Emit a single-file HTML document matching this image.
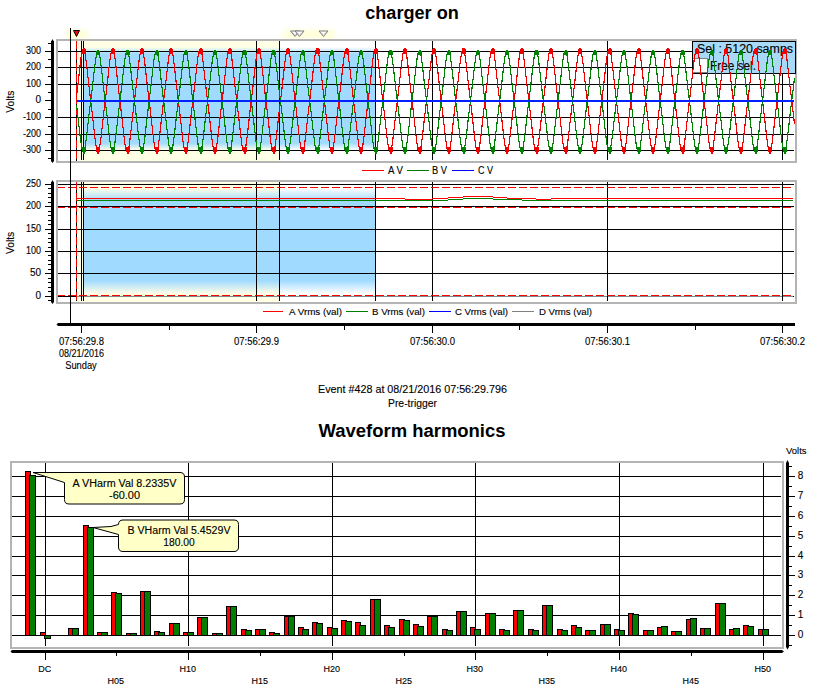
<!DOCTYPE html>
<html><head><meta charset="utf-8"><style>
html,body{margin:0;padding:0;background:#fff;}
svg{display:block;font-family:"Liberation Sans",sans-serif;}
text{stroke:#000;stroke-width:0.12px;} text[font-weight=bold]{stroke:none;}
</style></head><body>
<svg width="816" height="685" viewBox="0 0 816 685">
<rect x="0" y="0" width="816" height="685" fill="#fff"/>
<text x="412" y="18.8" font-size="18" text-anchor="middle" font-weight="bold" textLength="93.5" lengthAdjust="spacingAndGlyphs" >charger on</text>
<defs><linearGradient id="g1" x1="0" y1="0" x2="0" y2="1"><stop offset="0" stop-color="#A0DAFF" stop-opacity="0"/><stop offset="0.05" stop-color="#A0DAFF" stop-opacity="0"/><stop offset="0.11" stop-color="#A0DAFF" stop-opacity="1"/><stop offset="0.85" stop-color="#A0DAFF" stop-opacity="1"/><stop offset="0.91" stop-color="#A0DAFF" stop-opacity="0"/><stop offset="1" stop-color="#A0DAFF" stop-opacity="0"/></linearGradient><linearGradient id="g2" x1="0" y1="0" x2="0" y2="1"><stop offset="0" stop-color="#A0DAFF" stop-opacity="0"/><stop offset="0.05" stop-color="#A0DAFF" stop-opacity="0"/><stop offset="0.16" stop-color="#A0DAFF" stop-opacity="1"/><stop offset="0.82" stop-color="#A0DAFF" stop-opacity="1"/><stop offset="0.93" stop-color="#A0DAFF" stop-opacity="0"/><stop offset="1" stop-color="#A0DAFF" stop-opacity="0"/></linearGradient><filter id="blur" x="-50%" y="-50%" width="200%" height="200%"><feGaussianBlur stdDeviation="2.5"/></filter></defs>
<rect x="66" y="30" width="22" height="9" fill="#FFFFD8" filter="url(#blur)"/>
<rect x="283" y="30" width="52" height="9" fill="#FFFFD8" filter="url(#blur)"/>
<rect x="56" y="39" width="741" height="124" fill="#B4B4B4" />
<rect x="58" y="41" width="737" height="120" fill="#FFFFFF" />
<rect x="76" y="41" width="204" height="120" fill="#FFFFE6" />
<rect x="83" y="41" width="292" height="120" fill="url(#g1)" />
<rect x="58" y="51" width="736" height="1" fill="#000" />
<rect x="58" y="67" width="736" height="1" fill="#000" />
<rect x="58" y="84" width="736" height="1" fill="#000" />
<rect x="58" y="117" width="736" height="1" fill="#000" />
<rect x="58" y="134" width="736" height="1" fill="#000" />
<rect x="58" y="150" width="736" height="1" fill="#000" />
<rect x="81" y="41" width="1" height="119" fill="#000" />
<rect x="83" y="41" width="1" height="119" fill="#000" />
<rect x="256" y="41" width="1" height="119" fill="#000" />
<rect x="279" y="41" width="1" height="119" fill="#000" />
<rect x="375" y="41" width="1" height="119" fill="#000" />
<rect x="432" y="41" width="1" height="119" fill="#000" />
<rect x="607" y="41" width="1" height="119" fill="#000" />
<rect x="782" y="41" width="1" height="119" fill="#000" />
<rect x="692" y="41" width="104" height="33" fill="#000" />
<rect x="693" y="42" width="102" height="31" fill="#A8DAF8" />
<rect x="693" y="58" width="15" height="15" fill="#808080" />
<rect x="693" y="59" width="14" height="13" fill="#FFFFFF" />
<text x="697" y="52.5" font-size="12" text-anchor="start" font-weight="normal" textLength="96" lengthAdjust="spacingAndGlyphs" >Sel : 5120 samps</text>
<text x="710" y="69.5" font-size="12" text-anchor="start" font-weight="normal" textLength="46" lengthAdjust="spacingAndGlyphs" >Free sel.</text>
<rect x="76" y="41" width="1" height="120" fill="#000" />
<rect x="76" y="41" width="1" height="8" fill="#FF0000" />
<rect x="76" y="52" width="1" height="8" fill="#FF0000" />
<rect x="76" y="63" width="1" height="8" fill="#FF0000" />
<rect x="76" y="74" width="1" height="8" fill="#FF0000" />
<rect x="76" y="85" width="1" height="8" fill="#FF0000" />
<rect x="76" y="96" width="1" height="8" fill="#FF0000" />
<rect x="76" y="107" width="1" height="8" fill="#FF0000" />
<rect x="76" y="118" width="1" height="8" fill="#FF0000" />
<rect x="76" y="129" width="1" height="8" fill="#FF0000" />
<rect x="76" y="140" width="1" height="8" fill="#FF0000" />
<rect x="76" y="151" width="1" height="8" fill="#FF0000" />
<polyline points="76.50,96.69 77.00,92.54 77.50,88.30 78.00,83.95 78.50,79.50 79.00,74.98 79.50,70.46 80.00,66.04 80.50,61.85 81.00,58.02 81.50,54.70 82.00,52.02 82.50,50.10 83.00,49.02 83.50,48.84 84.00,49.56 84.50,51.16 85.00,53.55 85.50,56.63 86.00,60.27 86.50,64.33 87.00,68.68 87.50,73.17 88.00,77.70 88.50,82.18 89.00,86.57 89.50,90.85 90.00,95.03 90.50,99.15 91.00,103.25 91.50,107.39 92.00,111.60 92.50,115.93 93.00,120.36 93.50,124.87 94.00,129.39 94.50,133.84 95.00,138.09 95.50,142.01 96.00,145.45 96.50,148.28 97.00,150.37 97.50,151.62 98.00,152.00 98.50,151.46 99.00,150.05 99.50,147.82 100.00,144.87 100.50,141.34 101.00,137.35 101.50,133.05 102.00,128.58 102.50,124.05 103.00,119.55 103.50,115.14 104.00,110.84 104.50,106.64 105.00,102.51 105.50,98.41 106.00,94.29 106.50,90.09 107.00,85.79 107.50,81.38 108.00,76.88 108.50,72.35 109.00,67.88 109.50,63.58 110.00,59.58 110.50,56.03 111.00,53.06 111.50,50.81 112.00,49.37 112.50,48.81 113.00,49.15 113.50,50.38 114.00,52.45 114.50,55.26 115.00,58.68 115.50,62.58 116.00,66.83 116.50,71.27 117.00,75.80 117.50,80.31 118.00,84.74 118.50,89.07 119.00,93.29 119.50,97.43 120.00,101.53 120.50,105.64 121.00,109.82 121.50,114.10 122.00,118.49 122.50,122.97 123.00,127.50 123.50,131.99 124.00,136.34 124.50,140.41 125.00,144.07 125.50,147.17 126.00,149.58 126.50,151.20 127.00,151.95 127.50,151.80 128.00,150.75 128.50,148.85 129.00,146.19 129.50,142.88 130.00,139.07 130.50,134.89 131.00,130.47 131.50,125.96 132.00,121.44 132.50,116.98 133.00,112.63 133.50,108.39 134.00,104.24 134.50,100.13 135.00,96.03 135.50,91.86 136.00,87.61 136.50,83.24 137.00,78.78 137.50,74.25 138.00,69.75 138.50,65.36 139.00,61.21 139.50,57.45 140.00,54.23 140.50,51.66 141.00,49.87 141.50,48.93 142.00,48.90 142.50,49.76 143.00,51.49 143.50,53.99 144.00,57.17 144.50,60.89 145.00,65.01 145.50,69.39 146.00,73.89 146.50,78.42 147.00,82.89 147.50,87.26 148.00,91.53 148.50,95.70 149.00,99.81 149.50,103.91 150.00,108.06 150.50,112.29 151.00,116.63 151.50,121.08 152.00,125.59 152.50,130.11 153.00,134.54 153.50,138.75 154.00,142.60 154.50,145.95 155.00,148.66 155.50,150.62 156.00,151.74 156.50,151.97 157.00,151.29 157.50,149.74 158.00,147.39 158.50,144.34 159.00,140.72 159.50,136.68 160.00,132.35 160.50,127.86 161.00,123.33 161.50,118.84 162.00,114.44 162.50,110.16 163.00,105.97 163.50,101.85 164.00,97.75 164.50,93.62 165.00,89.41 165.50,85.09 166.00,80.66 166.50,76.16 167.00,71.63 167.50,67.18 168.00,62.91 168.50,58.98 169.00,55.51 169.50,52.65 170.00,50.52 170.50,49.22 171.00,48.80 171.50,49.29 172.00,50.66 172.50,52.85 173.00,55.77 173.50,59.28 174.00,63.24 174.50,67.53 175.00,71.99 175.50,76.52 176.00,81.02 176.50,85.44 177.00,89.75 177.50,93.95 178.00,98.08 178.50,102.18 179.00,106.31 179.50,110.50 180.00,114.79 180.50,119.20 181.00,123.69 181.50,128.22 182.00,132.70 182.50,137.01 183.00,141.03 183.50,144.61 184.00,147.61 184.50,149.90 185.00,151.38 185.50,151.99 186.00,151.69 186.50,150.50 187.00,148.47 187.50,145.70 188.00,142.30 188.50,138.42 189.00,134.19 189.50,129.75 190.00,125.23 190.50,120.72 191.00,116.28 191.50,111.95 192.00,107.72 192.50,103.58 193.00,99.48 193.50,95.36 194.00,91.19 194.50,86.92 195.00,82.54 195.50,78.06 196.00,73.53 196.50,69.03 197.00,64.67 197.50,60.58 198.00,56.90 198.50,53.77 199.00,51.32 199.50,49.66 200.00,48.87 200.50,48.97 201.00,49.98 201.50,51.84 202.00,54.46 202.50,57.74 203.00,61.53 203.50,65.70 204.00,70.10 204.50,74.62 205.00,79.14 205.50,83.60 206.00,87.95 206.50,92.20 207.00,96.36 207.50,100.46 208.00,104.57 208.50,108.73 209.00,112.98 209.50,117.33 210.00,121.80 210.50,126.32 211.00,130.83 211.50,135.23 212.00,139.39 212.50,143.17 213.00,146.43 213.50,149.03 214.00,150.86 214.50,151.84 215.00,151.92 215.50,151.10 216.00,149.42 216.50,146.95 217.00,143.80 217.50,140.10 218.00,136.00 218.50,131.63 219.00,127.13 219.50,122.61 220.00,118.13 220.50,113.75 221.00,109.48 221.50,105.31 222.00,101.20 222.50,97.10 223.00,92.95 223.50,88.73 224.00,84.39 224.50,79.95 225.00,75.43 225.50,70.91 226.00,66.48 226.50,62.26 227.00,58.39 227.50,55.01 228.00,52.26 228.50,50.25 229.00,49.09 229.50,48.82 230.00,49.45 230.50,50.96 231.00,53.27 231.50,56.29 232.00,59.88 232.50,63.91 233.00,68.23 233.50,72.71 234.00,77.24 234.50,81.74 235.00,86.14 235.50,90.43 236.00,94.62 236.50,98.74 237.00,102.84 237.50,106.97 238.00,111.18 238.50,115.49 239.00,119.91 239.50,124.42 240.00,128.94 240.50,133.40 241.00,137.68 241.50,141.64 242.00,145.13 242.50,148.02 243.00,150.19 243.50,151.54 244.00,152.00 244.50,151.56 245.00,150.23 245.50,148.08 246.00,145.20 246.50,141.71 247.00,137.76 247.50,133.49 248.00,129.03 248.50,124.51 249.00,120.00 249.50,115.58 250.00,111.26 250.50,107.05 251.00,102.92 251.50,98.82 252.00,94.70 252.50,90.51 253.00,86.22 253.50,81.83 254.00,77.33 254.50,72.81 255.00,68.32 255.50,64.00 256.00,59.96 256.50,56.36 257.00,53.33 257.50,51.00 258.00,49.47 258.50,48.82 259.00,49.08 259.50,50.22 260.00,52.21 260.50,54.95 261.00,58.31 261.50,62.18 262.00,66.39 262.50,70.82 263.00,75.34 263.50,79.86 264.00,84.30 264.50,88.64 265.00,92.87 265.50,97.01 266.00,101.12 266.50,105.23 267.00,109.40 267.50,113.67 268.00,118.04 268.50,122.52 269.00,127.04 269.50,131.55 270.00,135.92 270.50,140.02 271.00,143.73 271.50,146.89 272.00,149.38 272.50,151.08 273.00,151.92 273.50,151.85 274.00,150.89 274.50,149.07 275.00,146.49 275.50,143.24 276.00,139.47 276.50,135.32 277.00,130.92 277.50,126.41 278.00,121.89 278.50,117.42 279.00,113.06 279.50,108.81 280.00,104.65 280.50,100.54 281.00,96.44 281.50,92.28 282.00,88.04 282.50,83.69 283.00,79.23 283.50,74.71 284.00,70.19 284.50,65.79 285.00,61.61 285.50,57.81 286.00,54.52 286.50,51.88 287.00,50.01 287.50,48.99 288.00,48.86 288.50,49.63 289.00,51.28 289.50,53.71 290.00,56.83 290.50,60.50 291.00,64.59 291.50,68.94 292.00,73.44 292.50,77.97 293.00,82.45 293.50,86.83 294.00,91.11 294.50,95.28 295.00,99.40 295.50,103.50 296.00,107.64 296.50,111.86 297.00,116.19 297.50,120.63 298.00,125.14 298.50,129.66 299.00,134.10 299.50,138.34 300.00,142.23 300.50,145.64 301.00,148.42 301.50,150.46 302.00,151.67 302.50,151.99 303.00,151.40 303.50,149.94 304.00,147.66 304.50,144.68 305.00,141.11 305.50,137.10 306.00,132.79 306.50,128.31 307.00,123.78 307.50,119.29 308.00,114.88 308.50,110.58 309.00,106.39 309.50,102.27 310.00,98.17 310.50,94.04 311.00,89.84 311.50,85.53 312.00,81.11 312.50,76.61 313.00,72.08 313.50,67.62 314.00,63.33 314.50,59.35 315.00,55.83 315.50,52.90 316.00,50.70 316.50,49.31 317.00,48.80 317.50,49.20 318.00,50.49 318.50,52.60 319.00,55.44 319.50,58.90 320.00,62.83 320.50,67.09 321.00,71.54 321.50,76.07 322.00,80.58 322.50,85.00 323.00,89.32 323.50,93.54 324.00,97.67 324.50,101.77 325.00,105.89 325.50,110.07 326.00,114.36 326.50,118.75 327.00,123.24 327.50,127.77 328.00,132.26 328.50,136.59 329.00,140.65 329.50,144.28 330.00,147.34 330.50,149.70 331.00,151.27 331.50,151.97 332.00,151.76 332.50,150.66 333.00,148.71 333.50,146.01 334.00,142.67 334.50,138.83 335.00,134.63 335.50,130.20 336.00,125.68 336.50,121.17 337.00,116.72 337.50,112.37 338.00,108.14 338.50,103.99 339.00,99.89 339.50,95.78 340.00,91.61 340.50,87.35 341.00,82.98 341.50,78.51 342.00,73.98 342.50,69.48 343.00,65.10 343.50,60.97 344.00,57.24 344.50,54.05 345.00,51.53 345.50,49.79 346.00,48.90 346.50,48.92 347.00,49.84 347.50,51.62 348.00,54.17 348.50,57.38 349.00,61.13 349.50,65.27 350.00,69.66 350.50,74.16 351.00,78.69 351.50,83.16 352.00,87.52 352.50,91.78 353.00,95.94 353.50,100.05 354.00,104.16 354.50,108.31 355.00,112.55 355.50,116.89 356.00,121.35 356.50,125.87 357.00,130.38 357.50,134.80 358.00,138.99 358.50,142.81 359.00,146.13 359.50,148.80 360.00,150.72 360.50,151.78 361.00,151.96 361.50,151.23 362.00,149.62 362.50,147.23 363.00,144.14 363.50,140.49 364.00,136.42 364.50,132.08 365.00,127.59 365.50,123.06 366.00,118.57 366.50,114.18 367.00,109.91 367.50,105.73 368.00,101.61 368.50,97.51 369.00,93.37 369.50,89.15 370.00,84.83 370.50,80.40 371.00,75.89 371.50,71.36 372.00,66.91 372.50,62.67 373.00,58.75 373.50,55.32 374.00,52.50 374.50,50.42 375.00,49.17 375.50,48.80 376.00,49.35 376.50,50.77 377.00,53.01 377.50,55.96 378.00,59.50 378.50,63.49 379.00,67.79 379.50,72.26 380.00,76.79 380.50,81.29 381.00,85.70 381.50,90.01 382.00,94.20 382.50,98.33 383.00,102.43 383.50,106.55 384.00,110.75 384.50,115.05 385.00,119.47 385.50,123.96 386.00,128.49 386.50,132.96 387.00,137.26 387.50,141.26 388.00,144.81 388.50,147.77 389.00,150.01 389.50,151.44 390.00,151.99 390.50,151.64 391.00,150.40 391.50,148.32 392.00,145.51 392.50,142.08 393.00,138.17 393.50,133.93 394.00,129.48 394.50,124.96 395.00,120.45 395.50,116.02 396.00,111.69 396.50,107.47 397.00,103.33 397.50,99.23 398.00,95.12 398.50,90.94 399.00,86.66 399.50,82.27 400.00,77.79 400.50,73.26 401.00,68.76 401.50,64.42 402.00,60.35 402.50,56.69 403.00,53.60 403.50,51.20 404.00,49.59 404.50,48.85 405.00,49.01 405.50,50.07 406.00,51.97 406.50,54.64 407.00,57.95 407.50,61.77 408.00,65.96 408.50,70.37 409.00,74.89 409.50,79.41 410.00,83.86 410.50,88.21 411.00,92.45 411.50,96.60 412.00,100.71 412.50,104.82 413.00,108.98 413.50,113.23 414.00,117.60 414.50,122.07 415.00,126.59 415.50,131.10 416.00,135.49 416.50,139.63 417.00,143.38 417.50,146.60 418.00,149.16 418.50,150.95 419.00,151.87 419.50,151.90 420.00,151.03 420.50,149.29 421.00,146.78 421.50,143.59 422.00,139.87 422.50,135.74 423.00,131.37 423.50,126.86 424.00,122.34 424.50,117.87 425.00,113.49 425.50,109.23 426.00,105.06 426.50,100.95 427.00,96.85 427.50,92.70 428.00,88.47 428.50,84.13 429.00,79.68 429.50,75.16 430.00,70.64 430.50,66.22 431.00,62.01 431.50,58.17 432.00,54.82 432.50,52.11 433.00,50.16 433.50,49.05 434.00,48.83 434.50,49.52 435.00,51.08 435.50,53.44 436.00,56.49 436.50,60.11 437.00,64.16 437.50,68.50 438.00,72.99 438.50,77.52 439.00,82.00 439.50,86.40 440.00,90.68 440.50,94.87 441.00,98.99 441.50,103.09 442.00,107.22 442.50,111.43 443.00,115.75 443.50,120.18 444.00,124.69 444.50,129.21 445.00,133.67 445.50,137.93 446.00,141.86 446.50,145.32 447.00,148.18 447.50,150.30 448.00,151.59 448.50,152.00 449.00,151.50 449.50,150.12 450.00,147.92 450.50,145.00 451.00,141.49 451.50,137.51 452.00,133.23 452.50,128.76 453.00,124.23 453.50,119.73 454.00,115.32 454.50,111.01 455.00,106.80 455.50,102.68 456.00,98.58 456.50,94.45 457.00,90.26 457.50,85.96 458.00,81.56 458.50,77.06 459.00,72.53 459.50,68.06 460.00,63.74 460.50,59.73 461.00,56.16 461.50,53.17 462.00,50.88 462.50,49.41 463.00,48.81 463.50,49.12 464.00,50.32 464.50,52.35 465.00,55.13 465.50,58.53 466.00,62.42 466.50,66.65 467.00,71.09 467.50,75.61 468.00,80.13 468.50,84.57 469.00,88.90 469.50,93.12 470.00,97.26 470.50,101.36 471.00,105.48 471.50,109.65 472.00,113.92 472.50,118.31 473.00,122.79 473.50,127.32 474.00,131.81 474.50,136.17 475.00,140.26 475.50,143.94 476.00,147.06 476.50,149.50 477.00,151.15 477.50,151.94 478.00,151.82 478.50,150.80 479.00,148.94 479.50,146.31 480.00,143.03 480.50,139.23 481.00,135.06 481.50,130.65 482.00,126.14 482.50,121.62 483.00,117.16 483.50,112.80 484.00,108.56 484.50,104.40 485.00,100.30 485.50,96.19 486.00,92.03 486.50,87.78 487.00,83.42 487.50,78.96 488.00,74.44 488.50,69.92 489.00,65.53 489.50,61.37 490.00,57.60 490.50,54.34 491.00,51.75 491.50,49.92 492.00,48.95 492.50,48.88 493.00,49.71 493.50,51.40 494.00,53.88 494.50,57.04 495.00,60.74 495.50,64.84 496.00,69.21 496.50,73.71 497.00,78.24 497.50,82.71 498.00,87.09 498.50,91.36 499.00,95.53 499.50,99.64 500.00,103.74 500.50,107.89 501.00,112.12 501.50,116.45 502.00,120.90 502.50,125.41 503.00,129.93 503.50,134.37 504.00,138.58 504.50,142.45 505.00,145.82 505.50,148.57 506.00,150.56 506.50,151.72 507.00,151.98 507.50,151.34 508.00,149.82 508.50,147.50 509.00,144.48 509.50,140.88 510.00,136.85 510.50,132.52 511.00,128.04 511.50,123.51 512.00,119.02 512.50,114.62 513.00,110.33 513.50,106.14 514.00,102.02 514.50,97.92 515.00,93.79 515.50,89.58 516.00,85.27 516.50,80.84 517.00,76.34 517.50,71.81 518.00,67.35 518.50,63.08 519.00,59.13 519.50,55.64 520.00,52.75 520.50,50.59 521.00,49.25 521.50,48.80 522.00,49.25 522.50,50.59 523.00,52.75 523.50,55.64 524.00,59.13 524.50,63.08 525.00,67.35 525.50,71.81 526.00,76.34 526.50,80.84 527.00,85.27 527.50,89.58 528.00,93.79 528.50,97.92 529.00,102.02 529.50,106.14 530.00,110.33 530.50,114.62 531.00,119.02 531.50,123.51 532.00,128.04 532.50,132.52 533.00,136.85 533.50,140.88 534.00,144.48 534.50,147.50 535.00,149.82 535.50,151.34 536.00,151.98 536.50,151.72 537.00,150.56 537.50,148.57 538.00,145.82 538.50,142.45 539.00,138.58 539.50,134.37 540.00,129.93 540.50,125.41 541.00,120.90 541.50,116.45 542.00,112.12 542.50,107.89 543.00,103.74 543.50,99.64 544.00,95.53 544.50,91.36 545.00,87.09 545.50,82.71 546.00,78.24 546.50,73.71 547.00,69.21 547.50,64.84 548.00,60.74 548.50,57.04 549.00,53.88 549.50,51.40 550.00,49.71 550.50,48.88 551.00,48.95 551.50,49.92 552.00,51.75 552.50,54.34 553.00,57.60 553.50,61.37 554.00,65.53 554.50,69.92 555.00,74.44 555.50,78.96 556.00,83.42 556.50,87.78 557.00,92.03 557.50,96.19 558.00,100.30 558.50,104.40 559.00,108.56 559.50,112.80 560.00,117.16 560.50,121.62 561.00,126.14 561.50,130.65 562.00,135.06 562.50,139.23 563.00,143.03 563.50,146.31 564.00,148.94 564.50,150.80 565.00,151.82 565.50,151.94 566.00,151.15 566.50,149.50 567.00,147.06 567.50,143.94 568.00,140.26 568.50,136.17 569.00,131.81 569.50,127.32 570.00,122.79 570.50,118.31 571.00,113.92 571.50,109.65 572.00,105.48 572.50,101.36 573.00,97.26 573.50,93.12 574.00,88.90 574.50,84.57 575.00,80.13 575.50,75.61 576.00,71.09 576.50,66.65 577.00,62.42 577.50,58.53 578.00,55.13 578.50,52.35 579.00,50.32 579.50,49.12 580.00,48.81 580.50,49.41 581.00,50.88 581.50,53.17 582.00,56.16 582.50,59.73 583.00,63.74 583.50,68.06 584.00,72.53 584.50,77.06 585.00,81.56 585.50,85.96 586.00,90.26 586.50,94.45 587.00,98.58 587.50,102.68 588.00,106.80 588.50,111.01 589.00,115.32 589.50,119.73 590.00,124.23 590.50,128.76 591.00,133.23 591.50,137.51 592.00,141.49 592.50,145.00 593.00,147.92 593.50,150.12 594.00,151.50 594.50,152.00 595.00,151.59 595.50,150.30 596.00,148.18 596.50,145.32 597.00,141.86 597.50,137.93 598.00,133.67 598.50,129.21 599.00,124.69 599.50,120.18 600.00,115.75 600.50,111.43 601.00,107.22 601.50,103.09 602.00,98.99 602.50,94.87 603.00,90.68 603.50,86.40 604.00,82.00 604.50,77.52 605.00,72.99 605.50,68.50 606.00,64.16 606.50,60.11 607.00,56.49 607.50,53.44 608.00,51.08 608.50,49.52 609.00,48.83 609.50,49.05 610.00,50.16 610.50,52.11 611.00,54.82 611.50,58.17 612.00,62.01 612.50,66.22 613.00,70.64 613.50,75.16 614.00,79.68 614.50,84.13 615.00,88.47 615.50,92.70 616.00,96.85 616.50,100.95 617.00,105.06 617.50,109.23 618.00,113.49 618.50,117.87 619.00,122.34 619.50,126.86 620.00,131.37 620.50,135.74 621.00,139.87 621.50,143.59 622.00,146.78 622.50,149.29 623.00,151.03 623.50,151.90 624.00,151.87 624.50,150.95 625.00,149.16 625.50,146.60 626.00,143.38 626.50,139.63 627.00,135.49 627.50,131.10 628.00,126.59 628.50,122.07 629.00,117.60 629.50,113.23 630.00,108.98 630.50,104.82 631.00,100.71 631.50,96.60 632.00,92.45 632.50,88.21 633.00,83.86 633.50,79.41 634.00,74.89 634.50,70.37 635.00,65.96 635.50,61.77 636.00,57.95 636.50,54.64 637.00,51.97 637.50,50.07 638.00,49.01 638.50,48.85 639.00,49.59 639.50,51.20 640.00,53.60 640.50,56.69 641.00,60.35 641.50,64.42 642.00,68.76 642.50,73.26 643.00,77.79 643.50,82.27 644.00,86.66 644.50,90.94 645.00,95.12 645.50,99.23 646.00,103.33 646.50,107.47 647.00,111.69 647.50,116.02 648.00,120.45 648.50,124.96 649.00,129.48 649.50,133.93 650.00,138.17 650.50,142.08 651.00,145.51 651.50,148.32 652.00,150.40 652.50,151.64 653.00,151.99 653.50,151.44 654.00,150.01 654.50,147.77 655.00,144.81 655.50,141.26 656.00,137.26 656.50,132.96 657.00,128.49 657.50,123.96 658.00,119.47 658.50,115.05 659.00,110.75 659.50,106.55 660.00,102.43 660.50,98.33 661.00,94.20 661.50,90.01 662.00,85.70 662.50,81.29 663.00,76.79 663.50,72.26 664.00,67.79 664.50,63.49 665.00,59.50 665.50,55.96 666.00,53.01 666.50,50.77 667.00,49.35 667.50,48.80 668.00,49.17 668.50,50.42 669.00,52.50 669.50,55.32 670.00,58.75 670.50,62.67 671.00,66.91 671.50,71.36 672.00,75.89 672.50,80.40 673.00,84.83 673.50,89.15 674.00,93.37 674.50,97.51 675.00,101.61 675.50,105.73 676.00,109.91 676.50,114.18 677.00,118.57 677.50,123.06 678.00,127.59 678.50,132.08 679.00,136.42 679.50,140.49 680.00,144.14 680.50,147.23 681.00,149.62 681.50,151.23 682.00,151.96 682.50,151.78 683.00,150.72 683.50,148.80 684.00,146.13 684.50,142.81 685.00,138.99 685.50,134.80 686.00,130.38 686.50,125.87 687.00,121.35 687.50,116.89 688.00,112.55 688.50,108.31 689.00,104.16 689.50,100.05 690.00,95.94 690.50,91.78 691.00,87.52 691.50,83.16 692.00,78.69 692.50,74.16 693.00,69.66 693.50,65.27 694.00,61.13 694.50,57.38 695.00,54.17 695.50,51.62 696.00,49.84 696.50,48.92 697.00,48.90 697.50,49.79 698.00,51.53 698.50,54.05 699.00,57.24 699.50,60.97 700.00,65.10 700.50,69.48 701.00,73.98 701.50,78.51 702.00,82.98 702.50,87.35 703.00,91.61 703.50,95.78 704.00,99.89 704.50,103.99 705.00,108.14 705.50,112.37 706.00,116.72 706.50,121.17 707.00,125.68 707.50,130.20 708.00,134.63 708.50,138.83 709.00,142.67 709.50,146.01 710.00,148.71 710.50,150.66 711.00,151.76 711.50,151.97 712.00,151.27 712.50,149.70 713.00,147.34 713.50,144.28 714.00,140.65 714.50,136.59 715.00,132.26 715.50,127.77 716.00,123.24 716.50,118.75 717.00,114.36 717.50,110.07 718.00,105.89 718.50,101.77 719.00,97.67 719.50,93.54 720.00,89.32 720.50,85.00 721.00,80.58 721.50,76.07 722.00,71.54 722.50,67.09 723.00,62.83 723.50,58.90 724.00,55.44 724.50,52.60 725.00,50.49 725.50,49.20 726.00,48.80 726.50,49.31 727.00,50.70 727.50,52.90 728.00,55.83 728.50,59.35 729.00,63.33 729.50,67.62 730.00,72.08 730.50,76.61 731.00,81.11 731.50,85.53 732.00,89.84 732.50,94.04 733.00,98.17 733.50,102.27 734.00,106.39 734.50,110.58 735.00,114.88 735.50,119.29 736.00,123.78 736.50,128.31 737.00,132.79 737.50,137.10 738.00,141.11 738.50,144.68 739.00,147.66 739.50,149.94 740.00,151.40 740.50,151.99 741.00,151.67 741.50,150.46 742.00,148.42 742.50,145.64 743.00,142.23 743.50,138.34 744.00,134.10 744.50,129.66 745.00,125.14 745.50,120.63 746.00,116.19 746.50,111.86 747.00,107.64 747.50,103.50 748.00,99.40 748.50,95.28 749.00,91.11 749.50,86.83 750.00,82.45 750.50,77.97 751.00,73.44 751.50,68.94 752.00,64.59 752.50,60.50 753.00,56.83 753.50,53.71 754.00,51.28 754.50,49.63 755.00,48.86 755.50,48.99 756.00,50.01 756.50,51.88 757.00,54.52 757.50,57.81 758.00,61.61 758.50,65.79 759.00,70.19 759.50,74.71 760.00,79.23 760.50,83.69 761.00,88.04 761.50,92.28 762.00,96.44 762.50,100.54 763.00,104.65 763.50,108.81 764.00,113.06 764.50,117.42 765.00,121.89 765.50,126.41 766.00,130.92 766.50,135.32 767.00,139.47 767.50,143.24 768.00,146.49 768.50,149.07 769.00,150.89 769.50,151.85 770.00,151.92 770.50,151.08 771.00,149.38 771.50,146.89 772.00,143.73 772.50,140.02 773.00,135.92 773.50,131.55 774.00,127.04 774.50,122.52 775.00,118.04 775.50,113.67 776.00,109.40 776.50,105.23 777.00,101.12 777.50,97.01 778.00,92.87 778.50,88.64 779.00,84.30 779.50,79.86 780.00,75.34 780.50,70.82 781.00,66.39 781.50,62.18 782.00,58.31 782.50,54.95 783.00,52.21 783.50,50.22 784.00,49.08 784.50,48.82 785.00,49.47 785.50,51.00 786.00,53.33 786.50,56.36 787.00,59.96 787.50,64.00 788.00,68.32 788.50,72.81 789.00,77.33 789.50,81.83 790.00,86.22 790.50,90.51 791.00,94.70 791.50,98.82 792.00,102.92 792.50,107.05 793.00,111.26 793.50,115.58 794.00,120.00 794.50,124.51" fill="none" stroke="#EE0000" stroke-width="1.15" shape-rendering="crispEdges"/>
<polyline points="76.50,104.94 77.00,109.01 77.50,113.17 78.00,117.43 78.50,121.80 79.00,126.23 79.50,130.66 80.00,134.99 80.50,139.10 81.00,142.86 81.50,146.11 82.00,148.74 82.50,150.63 83.00,151.68 83.50,151.86 84.00,151.15 84.50,149.59 85.00,147.25 85.50,144.23 86.00,140.65 86.50,136.67 87.00,132.41 87.50,128.01 88.00,123.56 88.50,119.17 89.00,114.86 89.50,110.66 90.00,106.56 90.50,102.53 91.00,98.50 91.50,94.45 92.00,90.31 92.50,86.07 93.00,81.73 93.50,77.31 94.00,72.87 94.50,68.51 95.00,64.34 95.50,60.50 96.00,57.12 96.50,54.35 97.00,52.30 97.50,51.07 98.00,50.70 98.50,51.23 99.00,52.61 99.50,54.80 100.00,57.69 100.50,61.16 101.00,65.07 101.50,69.28 102.00,73.66 102.50,78.10 103.00,82.52 103.50,86.84 104.00,91.06 104.50,95.18 105.00,99.23 105.50,103.25 106.00,107.29 106.50,111.41 107.00,115.63 107.50,119.95 108.00,124.36 108.50,128.80 109.00,133.19 109.50,137.41 110.00,141.33 110.50,144.81 111.00,147.72 111.50,149.93 112.00,151.34 112.50,151.89 113.00,151.56 113.50,150.35 114.00,148.32 114.50,145.57 115.00,142.21 115.50,138.38 116.00,134.22 116.50,129.86 117.00,125.43 117.50,121.00 118.00,116.66 118.50,112.41 119.00,108.27 119.50,104.22 120.00,100.19 120.50,96.16 121.00,92.06 121.50,87.87 122.00,83.56 122.50,79.17 123.00,74.73 123.50,70.32 124.00,66.06 124.50,62.06 125.00,58.47 125.50,55.43 126.00,53.07 126.50,51.48 127.00,50.75 127.50,50.90 128.00,51.93 128.50,53.79 129.00,56.40 129.50,59.64 130.00,63.38 130.50,67.48 131.00,71.81 131.50,76.24 132.00,80.67 132.50,85.04 133.00,89.31 133.50,93.46 134.00,97.54 134.50,101.56 135.00,105.59 135.50,109.67 136.00,113.84 136.50,118.12 137.00,122.50 137.50,126.94 138.00,131.36 138.50,135.67 139.00,139.73 139.50,143.41 140.00,146.58 140.50,149.10 141.00,150.85 141.50,151.77 142.00,151.81 142.50,150.96 143.00,149.27 143.50,146.81 144.00,143.69 144.50,140.04 145.00,136.00 145.50,131.71 146.00,127.29 146.50,122.86 147.00,118.47 147.50,114.18 148.00,110.00 148.50,105.91 149.00,101.88 149.50,97.86 150.00,93.79 150.50,89.64 151.00,85.38 151.50,81.02 152.00,76.59 152.50,72.16 153.00,67.82 153.50,63.70 154.00,59.92 154.50,56.64 155.00,53.97 155.50,52.05 156.00,50.95 156.50,50.73 157.00,51.39 157.50,52.91 158.00,55.22 158.50,58.21 159.00,61.76 159.50,65.73 160.00,69.97 160.50,74.37 161.00,78.81 161.50,83.22 162.00,87.53 162.50,91.73 163.00,95.83 163.50,99.87 164.00,103.89 164.50,107.95 165.00,112.08 165.50,116.31 166.00,120.65 166.50,125.07 167.00,129.51 167.50,133.88 168.00,138.06 168.50,141.92 169.00,145.32 169.50,148.13 170.00,150.21 170.50,151.49 171.00,151.90 171.50,151.42 172.00,150.07 172.50,147.93 173.00,145.07 173.50,141.63 174.00,137.74 174.50,133.54 175.00,129.16 175.50,124.72 176.00,120.30 176.50,115.97 177.00,111.74 177.50,107.62 178.00,103.57 178.50,99.55 179.00,95.51 179.50,91.40 180.00,87.19 180.50,82.87 181.00,78.46 181.50,74.02 182.00,69.63 182.50,65.40 183.00,61.46 183.50,57.95 184.00,55.01 184.50,52.76 185.00,51.31 185.50,50.71 186.00,51.01 186.50,52.17 187.00,54.16 187.50,56.88 188.00,60.21 188.50,64.02 189.00,68.16 189.50,72.51 190.00,76.95 190.50,81.38 191.00,85.73 191.50,89.98 192.00,94.12 192.50,98.18 193.00,102.20 193.50,106.24 194.00,110.33 194.50,114.52 195.00,118.82 195.50,123.21 196.00,127.65 196.50,132.06 197.00,136.34 197.50,140.35 198.00,143.96 198.50,147.03 199.00,149.43 199.50,151.06 200.00,151.84 200.50,151.73 201.00,150.74 201.50,148.92 202.00,146.35 202.50,143.14 203.00,139.42 203.50,135.33 204.00,131.01 204.50,126.58 205.00,122.15 205.50,117.78 206.00,113.50 206.50,109.34 207.00,105.27 207.50,101.24 208.00,97.21 208.50,93.14 209.00,88.97 209.50,84.69 210.00,80.32 210.50,75.88 211.00,71.46 211.50,67.15 212.00,63.07 212.50,59.36 213.00,56.16 213.50,53.61 214.00,51.82 214.50,50.85 215.00,50.77 215.50,51.58 216.00,53.23 216.50,55.65 217.00,58.74 217.50,62.37 218.00,66.39 218.50,70.67 219.00,75.08 219.50,79.52 220.00,83.91 220.50,88.21 221.00,92.39 221.50,96.48 222.00,100.52 222.50,104.54 223.00,108.60 223.50,112.75 224.00,117.00 224.50,121.36 225.00,125.78 225.50,130.22 226.00,134.56 226.50,138.70 227.00,142.50 227.50,145.81 228.00,148.51 228.50,150.47 229.00,151.62 229.50,151.88 230.00,151.26 230.50,149.78 231.00,147.51 231.50,144.55 232.00,141.03 232.50,137.08 233.00,132.84 233.50,128.45 234.00,124.01 234.50,119.60 235.00,115.29 235.50,111.08 236.00,106.97 236.50,102.93 237.00,98.91 237.50,94.86 238.00,90.73 238.50,86.50 239.00,82.17 239.50,77.75 240.00,73.31 240.50,68.94 241.00,64.74 241.50,60.86 242.00,57.44 242.50,54.60 243.00,52.47 243.50,51.15 244.00,50.70 244.50,51.14 245.00,52.44 245.50,54.55 246.00,57.37 246.50,60.79 247.00,64.66 247.50,68.85 248.00,73.22 248.50,77.66 249.00,82.08 249.50,86.42 250.00,90.65 250.50,94.78 251.00,98.83 251.50,102.85 252.00,106.89 252.50,110.99 253.00,115.20 253.50,119.51 254.00,123.92 254.50,128.36 255.00,132.76 255.50,137.00 256.00,140.96 256.50,144.49 257.00,147.46 257.50,149.74 258.00,151.24 258.50,151.88 259.00,151.63 259.50,150.50 260.00,148.56 260.50,145.87 261.00,142.57 261.50,138.78 262.00,134.65 262.50,130.31 263.00,125.87 263.50,121.44 264.00,117.09 264.50,112.83 265.00,108.68 265.50,104.62 266.00,100.60 266.50,96.56 267.00,92.48 267.50,88.29 268.00,84.00 268.50,79.61 269.00,75.17 269.50,70.76 270.00,66.47 270.50,62.44 271.00,58.81 271.50,55.71 272.00,53.27 272.50,51.60 273.00,50.78 273.50,50.84 274.00,51.79 274.50,53.57 275.00,56.11 275.50,59.29 276.00,62.99 276.50,67.06 277.00,71.37 277.50,75.79 278.00,80.23 278.50,84.61 279.00,88.88 279.50,93.05 280.00,97.13 280.50,101.16 281.00,105.19 281.50,109.26 282.00,113.42 282.50,117.69 283.00,122.06 283.50,126.49 284.00,130.92 284.50,135.24 285.00,139.34 285.50,143.07 286.00,146.29 286.50,148.88 287.00,150.71 287.50,151.72 288.00,151.84 288.50,151.08 289.00,149.47 289.50,147.08 290.00,144.03 290.50,140.42 291.00,136.42 291.50,132.15 292.00,127.74 292.50,123.30 293.00,118.90 293.50,114.60 294.00,110.41 294.50,106.32 295.00,102.28 295.50,98.26 296.00,94.20 296.50,90.06 297.00,85.82 297.50,81.46 298.00,77.04 298.50,72.60 299.00,68.25 299.50,64.10 300.00,60.28 300.50,56.94 301.00,54.21 301.50,52.21 302.00,51.02 302.50,50.71 303.00,51.29 303.50,52.72 304.00,54.96 304.50,57.88 305.00,61.38 305.50,65.31 306.00,69.54 306.50,73.93 307.00,78.37 307.50,82.78 308.00,87.10 308.50,91.31 309.00,95.43 309.50,99.47 310.00,103.49 310.50,107.54 311.00,111.66 311.50,115.88 312.00,120.21 312.50,124.63 313.00,129.07 313.50,133.45 314.00,137.65 314.50,141.55 315.00,145.01 315.50,147.88 316.00,150.04 316.50,151.40 317.00,151.90 317.50,151.51 318.00,150.25 318.50,148.17 319.00,145.38 319.50,141.99 320.00,138.14 320.50,133.97 321.00,129.60 321.50,125.16 322.00,120.74 322.50,116.40 323.00,112.16 323.50,108.03 324.00,103.97 324.50,99.95 325.00,95.92 325.50,91.81 326.00,87.61 326.50,83.30 327.00,78.90 327.50,74.46 328.00,70.06 328.50,65.81 329.00,61.83 329.50,58.28 330.00,55.27 330.50,52.95 331.00,51.41 331.50,50.73 332.00,50.94 332.50,52.02 333.00,53.93 333.50,56.58 334.00,59.85 334.50,63.62 335.00,67.74 335.50,72.07 336.00,76.51 336.50,80.94 337.00,85.30 337.50,89.56 338.00,93.71 338.50,97.78 339.00,101.80 339.50,105.83 340.00,109.92 340.50,114.10 341.00,118.38 341.50,122.77 342.00,127.21 342.50,131.62 343.00,135.92 343.50,139.96 344.00,143.62 344.50,146.75 345.00,149.22 345.50,150.93 346.00,151.80 346.50,151.78 347.00,150.88 347.50,149.14 348.00,146.64 348.50,143.48 349.00,139.81 349.50,135.75 350.00,131.45 350.50,127.03 351.00,122.59 351.50,118.21 352.00,113.93 352.50,109.75 353.00,105.67 353.50,101.64 354.00,97.62 354.50,93.55 355.00,89.39 355.50,85.13 356.00,80.76 356.50,76.33 357.00,71.90 357.50,67.57 358.00,63.46 358.50,59.71 359.00,56.46 359.50,53.84 360.00,51.96 360.50,50.91 361.00,50.74 361.50,51.46 362.00,53.03 362.50,55.38 363.00,58.41 363.50,61.98 364.00,65.97 364.50,70.23 365.00,74.64 365.50,79.08 366.00,83.48 366.50,87.78 367.00,91.98 367.50,96.08 368.00,100.11 368.50,104.14 369.00,108.19 369.50,112.33 370.00,116.57 370.50,120.92 371.00,125.34 371.50,129.78 372.00,134.14 372.50,138.30 373.00,142.14 373.50,145.51 374.00,148.27 374.50,150.31 375.00,151.54 375.50,151.90 376.00,151.36 376.50,149.97 377.00,147.77 377.50,144.88 378.00,141.41 378.50,137.49 379.00,133.28 379.50,128.89 380.00,124.45 380.50,120.04 381.00,115.71 381.50,111.49 382.00,107.38 382.50,103.33 383.00,99.31 383.50,95.26 384.00,91.15 384.50,86.93 385.00,82.60 385.50,78.19 386.00,73.75 386.50,69.37 387.00,65.15 387.50,61.23 388.00,57.75 388.50,54.85 389.00,52.65 389.50,51.25 390.00,50.71 390.50,51.05 391.00,52.27 391.50,54.30 392.00,57.06 392.50,60.42 393.00,64.26 393.50,68.42 394.00,72.78 394.50,77.22 395.00,81.64 395.50,85.99 396.00,90.23 396.50,94.37 397.00,98.42 397.50,102.45 398.00,106.48 398.50,110.58 399.00,114.77 399.50,119.08 400.00,123.48 400.50,127.92 401.00,132.32 401.50,136.58 402.00,140.58 402.50,144.16 403.00,147.19 403.50,149.55 404.00,151.13 404.50,151.85 405.00,151.69 405.50,150.66 406.00,148.79 406.50,146.17 407.00,142.93 407.50,139.18 408.00,135.07 408.50,130.75 409.00,126.32 409.50,121.88 410.00,117.52 410.50,113.25 411.00,109.09 411.50,105.02 412.00,101.00 412.50,96.97 413.00,92.89 413.50,88.72 414.00,84.43 414.50,80.05 415.00,75.62 415.50,71.20 416.00,66.89 416.50,62.83 417.00,59.15 417.50,55.99 418.00,53.48 418.50,51.73 419.00,50.83 419.50,50.80 420.00,51.66 420.50,53.36 421.00,55.82 421.50,58.95 422.00,62.60 422.50,66.64 423.00,70.93 423.50,75.35 424.00,79.79 424.50,84.17 425.00,88.46 425.50,92.64 426.00,96.73 426.50,100.76 427.00,104.78 427.50,108.85 428.00,113.00 428.50,117.26 429.00,121.62 429.50,126.05 430.00,130.48 430.50,134.82 431.00,138.94 431.50,142.71 432.00,145.99 432.50,148.65 433.00,150.57 433.50,151.66 434.00,151.87 434.50,151.20 435.00,149.67 435.50,147.35 436.00,144.36 436.50,140.80 437.00,136.83 437.50,132.58 438.00,128.18 438.50,123.74 439.00,119.34 439.50,115.03 440.00,110.83 440.50,106.73 441.00,102.69 441.50,98.67 442.00,94.61 442.50,90.48 443.00,86.25 443.50,81.90 444.00,77.48 444.50,73.04 445.00,68.68 445.50,64.50 446.00,60.64 446.50,57.25 447.00,54.45 447.50,52.37 448.00,51.10 448.50,50.70 449.00,51.19 449.50,52.54 450.00,54.70 450.50,57.56 451.00,61.01 451.50,64.90 452.00,69.11 452.50,73.49 453.00,77.93 453.50,82.34 454.00,86.67 454.50,90.90 455.00,95.02 455.50,99.07 456.00,103.09 456.50,107.13 457.00,111.24 457.50,115.46 458.00,119.78 458.50,124.18 459.00,128.63 459.50,133.02 460.00,137.25 460.50,141.18 461.00,144.68 461.50,147.62 462.00,149.86 462.50,151.30 463.00,151.89 463.50,151.59 464.00,150.41 464.50,148.42 465.00,145.69 465.50,142.36 466.00,138.54 466.50,134.39 467.00,130.04 467.50,125.61 468.00,121.18 468.50,116.83 469.00,112.58 469.50,108.44 470.00,104.38 470.50,100.36 471.00,96.32 471.50,92.23 472.00,88.04 472.50,83.74 473.00,79.35 473.50,74.91 474.00,70.50 474.50,66.22 475.00,62.21 475.50,58.61 476.00,55.54 476.50,53.15 477.00,51.53 477.50,50.76 478.00,50.88 478.50,51.87 479.00,53.70 479.50,56.28 480.00,59.50 480.50,63.22 481.00,67.31 481.50,71.63 482.00,76.06 482.50,80.50 483.00,84.87 483.50,89.14 484.00,93.30 484.50,97.37 485.00,101.40 485.50,105.43 486.00,109.51 486.50,113.67 487.00,117.95 487.50,122.33 488.00,126.76 488.50,131.19 489.00,135.50 489.50,139.57 490.00,143.28 490.50,146.46 491.00,149.01 491.50,150.80 492.00,151.75 492.50,151.82 493.00,151.01 493.50,149.35 494.00,146.92 494.50,143.82 495.00,140.19 495.50,136.17 496.00,131.89 496.50,127.47 497.00,123.03 497.50,118.64 498.00,114.35 498.50,110.17 499.00,106.08 499.50,102.04 500.00,98.02 500.50,93.96 501.00,89.81 501.50,85.56 502.00,81.20 502.50,76.77 503.00,72.34 503.50,67.99 504.00,63.86 504.50,60.06 505.00,56.76 505.50,54.07 506.00,52.11 506.50,50.98 507.00,50.72 507.50,51.35 508.00,52.84 508.50,55.11 509.00,58.08 509.50,61.61 510.00,65.56 510.50,69.80 511.00,74.20 511.50,78.64 512.00,83.04 512.50,87.36 513.00,91.56 513.50,95.67 514.00,99.71 514.50,103.73 515.00,107.78 515.50,111.91 516.00,116.14 516.50,120.48 517.00,124.89 517.50,129.33 518.00,133.71 518.50,137.90 519.00,141.77 519.50,145.20 520.00,148.03 520.50,150.14 521.00,151.46 521.50,151.90 522.00,151.46 522.50,150.14 523.00,148.03 523.50,145.20 524.00,141.77 524.50,137.90 525.00,133.71 525.50,129.33 526.00,124.89 526.50,120.48 527.00,116.14 527.50,111.91 528.00,107.78 528.50,103.73 529.00,99.71 529.50,95.67 530.00,91.56 530.50,87.36 531.00,83.04 531.50,78.64 532.00,74.20 532.50,69.80 533.00,65.56 533.50,61.61 534.00,58.08 534.50,55.11 535.00,52.84 535.50,51.35 536.00,50.72 536.50,50.98 537.00,52.11 537.50,54.07 538.00,56.76 538.50,60.06 539.00,63.86 539.50,67.99 540.00,72.34 540.50,76.77 541.00,81.20 541.50,85.56 542.00,89.81 542.50,93.96 543.00,98.02 543.50,102.04 544.00,106.08 544.50,110.17 545.00,114.35 545.50,118.64 546.00,123.03 546.50,127.47 547.00,131.89 547.50,136.17 548.00,140.19 548.50,143.82 549.00,146.92 549.50,149.35 550.00,151.01 550.50,151.82 551.00,151.75 551.50,150.80 552.00,149.01 552.50,146.46 553.00,143.28 553.50,139.57 554.00,135.50 554.50,131.19 555.00,126.76 555.50,122.33 556.00,117.95 556.50,113.67 557.00,109.51 557.50,105.43 558.00,101.40 558.50,97.37 559.00,93.30 559.50,89.14 560.00,84.87 560.50,80.50 561.00,76.06 561.50,71.63 562.00,67.31 562.50,63.22 563.00,59.50 563.50,56.28 564.00,53.70 564.50,51.87 565.00,50.88 565.50,50.76 566.00,51.53 566.50,53.15 567.00,55.54 567.50,58.61 568.00,62.21 568.50,66.22 569.00,70.50 569.50,74.91 570.00,79.35 570.50,83.74 571.00,88.04 571.50,92.23 572.00,96.32 572.50,100.36 573.00,104.38 573.50,108.44 574.00,112.58 574.50,116.83 575.00,121.18 575.50,125.61 576.00,130.04 576.50,134.39 577.00,138.54 577.50,142.36 578.00,145.69 578.50,148.42 579.00,150.41 579.50,151.59 580.00,151.89 580.50,151.30 581.00,149.86 581.50,147.62 582.00,144.68 582.50,141.18 583.00,137.25 583.50,133.02 584.00,128.63 584.50,124.18 585.00,119.78 585.50,115.46 586.00,111.24 586.50,107.13 587.00,103.09 587.50,99.07 588.00,95.02 588.50,90.90 589.00,86.67 589.50,82.34 590.00,77.93 590.50,73.49 591.00,69.11 591.50,64.90 592.00,61.01 592.50,57.56 593.00,54.70 593.50,52.54 594.00,51.19 594.50,50.70 595.00,51.10 595.50,52.37 596.00,54.45 596.50,57.25 597.00,60.64 597.50,64.50 598.00,68.68 598.50,73.04 599.00,77.48 599.50,81.90 600.00,86.25 600.50,90.48 601.00,94.61 601.50,98.67 602.00,102.69 602.50,106.73 603.00,110.83 603.50,115.03 604.00,119.34 604.50,123.74 605.00,128.18 605.50,132.58 606.00,136.83 606.50,140.80 607.00,144.36 607.50,147.35 608.00,149.67 608.50,151.20 609.00,151.87 609.50,151.66 610.00,150.57 610.50,148.65 611.00,145.99 611.50,142.71 612.00,138.94 612.50,134.82 613.00,130.48 613.50,126.05 614.00,121.62 614.50,117.26 615.00,113.00 615.50,108.85 616.00,104.78 616.50,100.76 617.00,96.73 617.50,92.64 618.00,88.46 618.50,84.17 619.00,79.79 619.50,75.35 620.00,70.93 620.50,66.64 621.00,62.60 621.50,58.95 622.00,55.82 622.50,53.36 623.00,51.66 623.50,50.80 624.00,50.83 624.50,51.73 625.00,53.48 625.50,55.99 626.00,59.15 626.50,62.83 627.00,66.89 627.50,71.20 628.00,75.62 628.50,80.05 629.00,84.43 629.50,88.72 630.00,92.89 630.50,96.97 631.00,101.00 631.50,105.02 632.00,109.09 632.50,113.25 633.00,117.52 633.50,121.88 634.00,126.32 634.50,130.75 635.00,135.07 635.50,139.18 636.00,142.93 636.50,146.17 637.00,148.79 637.50,150.66 638.00,151.69 638.50,151.85 639.00,151.13 639.50,149.55 640.00,147.19 640.50,144.16 641.00,140.58 641.50,136.58 642.00,132.32 642.50,127.92 643.00,123.48 643.50,119.08 644.00,114.77 644.50,110.58 645.00,106.48 645.50,102.45 646.00,98.42 646.50,94.37 647.00,90.23 647.50,85.99 648.00,81.64 648.50,77.22 649.00,72.78 649.50,68.42 650.00,64.26 650.50,60.42 651.00,57.06 651.50,54.30 652.00,52.27 652.50,51.05 653.00,50.71 653.50,51.25 654.00,52.65 654.50,54.85 655.00,57.75 655.50,61.23 656.00,65.15 656.50,69.37 657.00,73.75 657.50,78.19 658.00,82.60 658.50,86.93 659.00,91.15 659.50,95.26 660.00,99.31 660.50,103.33 661.00,107.38 661.50,111.49 662.00,115.71 662.50,120.04 663.00,124.45 663.50,128.89 664.00,133.28 664.50,137.49 665.00,141.41 665.50,144.88 666.00,147.77 666.50,149.97 667.00,151.36 667.50,151.90 668.00,151.54 668.50,150.31 669.00,148.27 669.50,145.51 670.00,142.14 670.50,138.30 671.00,134.14 671.50,129.78 672.00,125.34 672.50,120.92 673.00,116.57 673.50,112.33 674.00,108.19 674.50,104.14 675.00,100.11 675.50,96.08 676.00,91.98 676.50,87.78 677.00,83.48 677.50,79.08 678.00,74.64 678.50,70.23 679.00,65.97 679.50,61.98 680.00,58.41 680.50,55.38 681.00,53.03 681.50,51.46 682.00,50.74 682.50,50.91 683.00,51.96 683.50,53.84 684.00,56.46 684.50,59.71 685.00,63.46 685.50,67.57 686.00,71.90 686.50,76.33 687.00,80.76 687.50,85.13 688.00,89.39 688.50,93.55 689.00,97.62 689.50,101.64 690.00,105.67 690.50,109.75 691.00,113.93 691.50,118.21 692.00,122.59 692.50,127.03 693.00,131.45 693.50,135.75 694.00,139.81 694.50,143.48 695.00,146.64 695.50,149.14 696.00,150.88 696.50,151.78 697.00,151.80 697.50,150.93 698.00,149.22 698.50,146.75 699.00,143.62 699.50,139.96 700.00,135.92 700.50,131.62 701.00,127.21 701.50,122.77 702.00,118.38 702.50,114.10 703.00,109.92 703.50,105.83 704.00,101.80 704.50,97.78 705.00,93.71 705.50,89.56 706.00,85.30 706.50,80.94 707.00,76.51 707.50,72.07 708.00,67.74 708.50,63.62 709.00,59.85 709.50,56.58 710.00,53.93 710.50,52.02 711.00,50.94 711.50,50.73 712.00,51.41 712.50,52.95 713.00,55.27 713.50,58.28 714.00,61.83 714.50,65.81 715.00,70.06 715.50,74.46 716.00,78.90 716.50,83.30 717.00,87.61 717.50,91.81 718.00,95.92 718.50,99.95 719.00,103.97 719.50,108.03 720.00,112.16 720.50,116.40 721.00,120.74 721.50,125.16 722.00,129.60 722.50,133.97 723.00,138.14 723.50,141.99 724.00,145.38 724.50,148.17 725.00,150.25 725.50,151.51 726.00,151.90 726.50,151.40 727.00,150.04 727.50,147.88 728.00,145.01 728.50,141.55 729.00,137.65 729.50,133.45 730.00,129.07 730.50,124.63 731.00,120.21 731.50,115.88 732.00,111.66 732.50,107.54 733.00,103.49 733.50,99.47 734.00,95.43 734.50,91.31 735.00,87.10 735.50,82.78 736.00,78.37 736.50,73.93 737.00,69.54 737.50,65.31 738.00,61.38 738.50,57.88 739.00,54.96 739.50,52.72 740.00,51.29 740.50,50.71 741.00,51.02 741.50,52.21 742.00,54.21 742.50,56.94 743.00,60.28 743.50,64.10 744.00,68.25 744.50,72.60 745.00,77.04 745.50,81.46 746.00,85.82 746.50,90.06 747.00,94.20 747.50,98.26 748.00,102.28 748.50,106.32 749.00,110.41 749.50,114.60 750.00,118.90 750.50,123.30 751.00,127.74 751.50,132.15 752.00,136.42 752.50,140.42 753.00,144.03 753.50,147.08 754.00,149.47 754.50,151.08 755.00,151.84 755.50,151.72 756.00,150.71 756.50,148.88 757.00,146.29 757.50,143.07 758.00,139.34 758.50,135.24 759.00,130.92 759.50,126.49 760.00,122.06 760.50,117.69 761.00,113.42 761.50,109.26 762.00,105.19 762.50,101.16 763.00,97.13 763.50,93.05 764.00,88.88 764.50,84.61 765.00,80.23 765.50,75.79 766.00,71.37 766.50,67.06 767.00,62.99 767.50,59.29 768.00,56.11 768.50,53.57 769.00,51.79 769.50,50.84 770.00,50.78 770.50,51.60 771.00,53.27 771.50,55.71 772.00,58.81 772.50,62.44 773.00,66.47 773.50,70.76 774.00,75.17 774.50,79.61 775.00,84.00 775.50,88.29 776.00,92.48 776.50,96.56 777.00,100.60 777.50,104.62 778.00,108.68 778.50,112.83 779.00,117.09 779.50,121.44 780.00,125.87 780.50,130.31 781.00,134.65 781.50,138.78 782.00,142.57 782.50,145.87 783.00,148.56 783.50,150.50 784.00,151.63 784.50,151.88 785.00,151.24 785.50,149.74 786.00,147.46 786.50,144.49 787.00,140.96 787.50,137.00 788.00,132.76 788.50,128.36 789.00,123.92 789.50,119.51 790.00,115.20 790.50,110.99 791.00,106.89 791.50,102.85 792.00,98.83 792.50,94.78 793.00,90.65 793.50,86.42 794.00,82.08 794.50,77.66" fill="none" stroke="#008000" stroke-width="1.15" shape-rendering="crispEdges"/>
<rect x="83" y="48" width="2" height="1" fill="#EE0000" />
<rect x="82" y="49" width="4" height="5" fill="#EE0000" />
<rect x="82" y="147" width="4" height="5" fill="#008000" />
<rect x="83" y="152" width="2" height="2" fill="#008000" />
<rect x="96" y="147" width="4" height="5" fill="#EE0000" />
<rect x="97" y="152" width="2" height="2" fill="#EE0000" />
<rect x="97" y="50" width="2" height="1" fill="#008000" />
<rect x="96" y="51" width="4" height="4" fill="#008000" />
<rect x="112" y="48" width="2" height="1" fill="#EE0000" />
<rect x="111" y="49" width="4" height="5" fill="#EE0000" />
<rect x="111" y="147" width="4" height="5" fill="#008000" />
<rect x="112" y="152" width="2" height="2" fill="#008000" />
<rect x="126" y="147" width="4" height="5" fill="#EE0000" />
<rect x="127" y="152" width="2" height="2" fill="#EE0000" />
<rect x="127" y="50" width="2" height="1" fill="#008000" />
<rect x="126" y="51" width="4" height="4" fill="#008000" />
<rect x="141" y="48" width="2" height="1" fill="#EE0000" />
<rect x="140" y="49" width="4" height="5" fill="#EE0000" />
<rect x="140" y="147" width="4" height="5" fill="#008000" />
<rect x="141" y="152" width="2" height="2" fill="#008000" />
<rect x="155" y="147" width="4" height="5" fill="#EE0000" />
<rect x="156" y="152" width="2" height="2" fill="#EE0000" />
<rect x="156" y="50" width="2" height="1" fill="#008000" />
<rect x="155" y="51" width="4" height="4" fill="#008000" />
<rect x="170" y="48" width="2" height="1" fill="#EE0000" />
<rect x="169" y="49" width="4" height="5" fill="#EE0000" />
<rect x="169" y="147" width="4" height="5" fill="#008000" />
<rect x="170" y="152" width="2" height="2" fill="#008000" />
<rect x="184" y="147" width="4" height="5" fill="#EE0000" />
<rect x="185" y="152" width="2" height="2" fill="#EE0000" />
<rect x="185" y="50" width="2" height="1" fill="#008000" />
<rect x="184" y="51" width="4" height="4" fill="#008000" />
<rect x="200" y="48" width="2" height="1" fill="#EE0000" />
<rect x="199" y="49" width="4" height="5" fill="#EE0000" />
<rect x="199" y="147" width="4" height="5" fill="#008000" />
<rect x="200" y="152" width="2" height="2" fill="#008000" />
<rect x="213" y="147" width="4" height="5" fill="#EE0000" />
<rect x="214" y="152" width="2" height="2" fill="#EE0000" />
<rect x="214" y="50" width="2" height="1" fill="#008000" />
<rect x="213" y="51" width="4" height="4" fill="#008000" />
<rect x="229" y="48" width="2" height="1" fill="#EE0000" />
<rect x="228" y="49" width="4" height="5" fill="#EE0000" />
<rect x="228" y="147" width="4" height="5" fill="#008000" />
<rect x="229" y="152" width="2" height="2" fill="#008000" />
<rect x="243" y="147" width="4" height="5" fill="#EE0000" />
<rect x="244" y="152" width="2" height="2" fill="#EE0000" />
<rect x="244" y="50" width="2" height="1" fill="#008000" />
<rect x="243" y="51" width="4" height="4" fill="#008000" />
<rect x="258" y="48" width="2" height="1" fill="#EE0000" />
<rect x="257" y="49" width="4" height="5" fill="#EE0000" />
<rect x="257" y="147" width="4" height="5" fill="#008000" />
<rect x="258" y="152" width="2" height="2" fill="#008000" />
<rect x="272" y="147" width="4" height="5" fill="#EE0000" />
<rect x="273" y="152" width="2" height="2" fill="#EE0000" />
<rect x="273" y="50" width="2" height="1" fill="#008000" />
<rect x="272" y="51" width="4" height="4" fill="#008000" />
<rect x="287" y="48" width="2" height="1" fill="#EE0000" />
<rect x="286" y="49" width="4" height="5" fill="#EE0000" />
<rect x="286" y="147" width="4" height="5" fill="#008000" />
<rect x="287" y="152" width="2" height="2" fill="#008000" />
<rect x="301" y="147" width="4" height="5" fill="#EE0000" />
<rect x="302" y="152" width="2" height="2" fill="#EE0000" />
<rect x="302" y="50" width="2" height="1" fill="#008000" />
<rect x="301" y="51" width="4" height="4" fill="#008000" />
<rect x="317" y="48" width="2" height="1" fill="#EE0000" />
<rect x="316" y="49" width="4" height="5" fill="#EE0000" />
<rect x="316" y="147" width="4" height="5" fill="#008000" />
<rect x="317" y="152" width="2" height="2" fill="#008000" />
<rect x="330" y="147" width="4" height="5" fill="#EE0000" />
<rect x="331" y="152" width="2" height="2" fill="#EE0000" />
<rect x="331" y="50" width="2" height="1" fill="#008000" />
<rect x="330" y="51" width="4" height="4" fill="#008000" />
<rect x="346" y="48" width="2" height="1" fill="#EE0000" />
<rect x="345" y="49" width="4" height="5" fill="#EE0000" />
<rect x="345" y="147" width="4" height="5" fill="#008000" />
<rect x="346" y="152" width="2" height="2" fill="#008000" />
<rect x="359" y="147" width="4" height="5" fill="#EE0000" />
<rect x="360" y="152" width="2" height="2" fill="#EE0000" />
<rect x="360" y="50" width="2" height="1" fill="#008000" />
<rect x="359" y="51" width="4" height="4" fill="#008000" />
<rect x="375" y="48" width="2" height="1" fill="#EE0000" />
<rect x="374" y="49" width="4" height="5" fill="#EE0000" />
<rect x="374" y="147" width="4" height="5" fill="#008000" />
<rect x="375" y="152" width="2" height="2" fill="#008000" />
<rect x="389" y="147" width="4" height="5" fill="#EE0000" />
<rect x="390" y="152" width="2" height="2" fill="#EE0000" />
<rect x="390" y="50" width="2" height="1" fill="#008000" />
<rect x="389" y="51" width="4" height="4" fill="#008000" />
<rect x="404" y="48" width="2" height="1" fill="#EE0000" />
<rect x="403" y="49" width="4" height="5" fill="#EE0000" />
<rect x="403" y="147" width="4" height="5" fill="#008000" />
<rect x="404" y="152" width="2" height="2" fill="#008000" />
<rect x="418" y="147" width="4" height="5" fill="#EE0000" />
<rect x="419" y="152" width="2" height="2" fill="#EE0000" />
<rect x="419" y="50" width="2" height="1" fill="#008000" />
<rect x="418" y="51" width="4" height="4" fill="#008000" />
<rect x="433" y="48" width="2" height="1" fill="#EE0000" />
<rect x="432" y="49" width="4" height="5" fill="#EE0000" />
<rect x="432" y="147" width="4" height="5" fill="#008000" />
<rect x="433" y="152" width="2" height="2" fill="#008000" />
<rect x="447" y="147" width="4" height="5" fill="#EE0000" />
<rect x="448" y="152" width="2" height="2" fill="#EE0000" />
<rect x="448" y="50" width="2" height="1" fill="#008000" />
<rect x="447" y="51" width="4" height="4" fill="#008000" />
<rect x="463" y="48" width="2" height="1" fill="#EE0000" />
<rect x="462" y="49" width="4" height="5" fill="#EE0000" />
<rect x="462" y="147" width="4" height="5" fill="#008000" />
<rect x="463" y="152" width="2" height="2" fill="#008000" />
<rect x="476" y="147" width="4" height="5" fill="#EE0000" />
<rect x="477" y="152" width="2" height="2" fill="#EE0000" />
<rect x="477" y="50" width="2" height="1" fill="#008000" />
<rect x="476" y="51" width="4" height="4" fill="#008000" />
<rect x="492" y="48" width="2" height="1" fill="#EE0000" />
<rect x="491" y="49" width="4" height="5" fill="#EE0000" />
<rect x="491" y="147" width="4" height="5" fill="#008000" />
<rect x="492" y="152" width="2" height="2" fill="#008000" />
<rect x="505" y="147" width="4" height="5" fill="#EE0000" />
<rect x="506" y="152" width="2" height="2" fill="#EE0000" />
<rect x="506" y="50" width="2" height="1" fill="#008000" />
<rect x="505" y="51" width="4" height="4" fill="#008000" />
<rect x="521" y="48" width="2" height="1" fill="#EE0000" />
<rect x="520" y="49" width="4" height="5" fill="#EE0000" />
<rect x="520" y="147" width="4" height="5" fill="#008000" />
<rect x="521" y="152" width="2" height="2" fill="#008000" />
<rect x="535" y="147" width="4" height="5" fill="#EE0000" />
<rect x="536" y="152" width="2" height="2" fill="#EE0000" />
<rect x="536" y="50" width="2" height="1" fill="#008000" />
<rect x="535" y="51" width="4" height="4" fill="#008000" />
<rect x="550" y="48" width="2" height="1" fill="#EE0000" />
<rect x="549" y="49" width="4" height="5" fill="#EE0000" />
<rect x="549" y="147" width="4" height="5" fill="#008000" />
<rect x="550" y="152" width="2" height="2" fill="#008000" />
<rect x="564" y="147" width="4" height="5" fill="#EE0000" />
<rect x="565" y="152" width="2" height="2" fill="#EE0000" />
<rect x="565" y="50" width="2" height="1" fill="#008000" />
<rect x="564" y="51" width="4" height="4" fill="#008000" />
<rect x="579" y="48" width="2" height="1" fill="#EE0000" />
<rect x="578" y="49" width="4" height="5" fill="#EE0000" />
<rect x="578" y="147" width="4" height="5" fill="#008000" />
<rect x="579" y="152" width="2" height="2" fill="#008000" />
<rect x="593" y="147" width="4" height="5" fill="#EE0000" />
<rect x="594" y="152" width="2" height="2" fill="#EE0000" />
<rect x="594" y="50" width="2" height="1" fill="#008000" />
<rect x="593" y="51" width="4" height="4" fill="#008000" />
<rect x="609" y="48" width="2" height="1" fill="#EE0000" />
<rect x="608" y="49" width="4" height="5" fill="#EE0000" />
<rect x="608" y="147" width="4" height="5" fill="#008000" />
<rect x="609" y="152" width="2" height="2" fill="#008000" />
<rect x="622" y="147" width="4" height="5" fill="#EE0000" />
<rect x="623" y="152" width="2" height="2" fill="#EE0000" />
<rect x="623" y="50" width="2" height="1" fill="#008000" />
<rect x="622" y="51" width="4" height="4" fill="#008000" />
<rect x="638" y="48" width="2" height="1" fill="#EE0000" />
<rect x="637" y="49" width="4" height="5" fill="#EE0000" />
<rect x="637" y="147" width="4" height="5" fill="#008000" />
<rect x="638" y="152" width="2" height="2" fill="#008000" />
<rect x="651" y="147" width="4" height="5" fill="#EE0000" />
<rect x="652" y="152" width="2" height="2" fill="#EE0000" />
<rect x="652" y="50" width="2" height="1" fill="#008000" />
<rect x="651" y="51" width="4" height="4" fill="#008000" />
<rect x="667" y="48" width="2" height="1" fill="#EE0000" />
<rect x="666" y="49" width="4" height="5" fill="#EE0000" />
<rect x="666" y="147" width="4" height="5" fill="#008000" />
<rect x="667" y="152" width="2" height="2" fill="#008000" />
<rect x="681" y="147" width="4" height="5" fill="#EE0000" />
<rect x="682" y="152" width="2" height="2" fill="#EE0000" />
<rect x="682" y="50" width="2" height="1" fill="#008000" />
<rect x="681" y="51" width="4" height="4" fill="#008000" />
<rect x="696" y="48" width="2" height="1" fill="#EE0000" />
<rect x="695" y="49" width="4" height="5" fill="#EE0000" />
<rect x="695" y="147" width="4" height="5" fill="#008000" />
<rect x="696" y="152" width="2" height="2" fill="#008000" />
<rect x="710" y="147" width="4" height="5" fill="#EE0000" />
<rect x="711" y="152" width="2" height="2" fill="#EE0000" />
<rect x="711" y="50" width="2" height="1" fill="#008000" />
<rect x="710" y="51" width="4" height="4" fill="#008000" />
<rect x="725" y="48" width="2" height="1" fill="#EE0000" />
<rect x="724" y="49" width="4" height="5" fill="#EE0000" />
<rect x="724" y="147" width="4" height="5" fill="#008000" />
<rect x="725" y="152" width="2" height="2" fill="#008000" />
<rect x="739" y="147" width="4" height="5" fill="#EE0000" />
<rect x="740" y="152" width="2" height="2" fill="#EE0000" />
<rect x="740" y="50" width="2" height="1" fill="#008000" />
<rect x="739" y="51" width="4" height="4" fill="#008000" />
<rect x="755" y="48" width="2" height="1" fill="#EE0000" />
<rect x="754" y="49" width="4" height="5" fill="#EE0000" />
<rect x="754" y="147" width="4" height="5" fill="#008000" />
<rect x="755" y="152" width="2" height="2" fill="#008000" />
<rect x="768" y="147" width="4" height="5" fill="#EE0000" />
<rect x="769" y="152" width="2" height="2" fill="#EE0000" />
<rect x="769" y="50" width="2" height="1" fill="#008000" />
<rect x="768" y="51" width="4" height="4" fill="#008000" />
<rect x="784" y="48" width="2" height="1" fill="#EE0000" />
<rect x="783" y="49" width="4" height="5" fill="#EE0000" />
<rect x="783" y="147" width="4" height="5" fill="#008000" />
<rect x="784" y="152" width="2" height="2" fill="#008000" />
<rect x="77" y="100" width="717" height="2" fill="#0020FF" />
<rect x="51" y="41" width="3" height="120" fill="#000" />
<polygon points="51,161 52.5,163 54,161" fill="#000"/>
<polygon points="51,42 52.5,39 54,42" fill="#000"/>
<rect x="45" y="51" width="6" height="1" fill="#000" />
<text x="41" y="53.8" font-size="10" text-anchor="end" font-weight="normal" textLength="15" lengthAdjust="spacingAndGlyphs" >300</text>
<rect x="45" y="67" width="6" height="1" fill="#000" />
<text x="41" y="69.8" font-size="10" text-anchor="end" font-weight="normal" textLength="15" lengthAdjust="spacingAndGlyphs" >200</text>
<rect x="45" y="84" width="6" height="1" fill="#000" />
<text x="41" y="86.8" font-size="10" text-anchor="end" font-weight="normal" textLength="15" lengthAdjust="spacingAndGlyphs" >100</text>
<rect x="45" y="100" width="6" height="1" fill="#000" />
<text x="41" y="102.8" font-size="10" text-anchor="end" font-weight="normal" >0</text>
<rect x="45" y="117" width="6" height="1" fill="#000" />
<text x="41" y="119.8" font-size="10" text-anchor="end" font-weight="normal" textLength="18" lengthAdjust="spacingAndGlyphs" >-100</text>
<rect x="45" y="134" width="6" height="1" fill="#000" />
<text x="41" y="136.8" font-size="10" text-anchor="end" font-weight="normal" textLength="18" lengthAdjust="spacingAndGlyphs" >-200</text>
<rect x="45" y="150" width="6" height="1" fill="#000" />
<text x="41" y="152.8" font-size="10" text-anchor="end" font-weight="normal" textLength="18" lengthAdjust="spacingAndGlyphs" >-300</text>
<rect x="48" y="43" width="3" height="1" fill="#000" />
<rect x="48" y="59" width="3" height="1" fill="#000" />
<rect x="48" y="76" width="3" height="1" fill="#000" />
<rect x="48" y="92" width="3" height="1" fill="#000" />
<rect x="48" y="109" width="3" height="1" fill="#000" />
<rect x="48" y="126" width="3" height="1" fill="#000" />
<rect x="48" y="142" width="3" height="1" fill="#000" />
<rect x="48" y="158" width="3" height="1" fill="#000" />
<text x="0" y="0" font-size="10.3" text-anchor="middle" transform="translate(14.3,101.7) rotate(-90)">Volts</text>
<rect x="362" y="170" width="22" height="1" fill="#FF0000" />
<text x="388" y="174" font-size="10" text-anchor="start" font-weight="normal" textLength="15" lengthAdjust="spacingAndGlyphs" >A V</text>
<rect x="407" y="170" width="22" height="1" fill="#008000" />
<text x="432" y="174" font-size="10" text-anchor="start" font-weight="normal" textLength="15" lengthAdjust="spacingAndGlyphs" >B V</text>
<rect x="452" y="170" width="22" height="1" fill="#0000FF" />
<text x="478" y="174" font-size="10" text-anchor="start" font-weight="normal" textLength="15" lengthAdjust="spacingAndGlyphs" >C V</text>
<rect x="56" y="180" width="741" height="124" fill="#B4B4B4" />
<rect x="58" y="182" width="737" height="120" fill="#FFFFFF" />
<rect x="76" y="182" width="204" height="120" fill="#FFFFE6" />
<rect x="83" y="182" width="292" height="120" fill="url(#g2)" />
<rect x="58" y="184" width="736" height="1" fill="#000" />
<rect x="58" y="206" width="736" height="1" fill="#000" />
<rect x="58" y="229" width="736" height="1" fill="#000" />
<rect x="58" y="251" width="736" height="1" fill="#000" />
<rect x="58" y="273" width="736" height="1" fill="#000" />
<rect x="58" y="296" width="736" height="1" fill="#000" />
<rect x="77" y="296" width="716" height="1" fill="#808890" />
<rect x="81" y="182" width="1" height="119" fill="#000" />
<rect x="83" y="182" width="1" height="119" fill="#000" />
<rect x="256" y="182" width="1" height="119" fill="#000" />
<rect x="279" y="182" width="1" height="119" fill="#000" />
<rect x="375" y="182" width="1" height="119" fill="#000" />
<rect x="432" y="182" width="1" height="119" fill="#000" />
<rect x="607" y="182" width="1" height="119" fill="#000" />
<rect x="782" y="182" width="1" height="119" fill="#000" />
<rect x="58" y="187" width="7" height="1" fill="#FF0000" />
<rect x="68" y="187" width="8" height="1" fill="#FF0000" />
<rect x="79" y="187" width="8" height="1" fill="#FF0000" />
<rect x="90" y="187" width="8" height="1" fill="#FF0000" />
<rect x="101" y="187" width="8" height="1" fill="#FF0000" />
<rect x="112" y="187" width="8" height="1" fill="#FF0000" />
<rect x="123" y="187" width="8" height="1" fill="#FF0000" />
<rect x="134" y="187" width="8" height="1" fill="#FF0000" />
<rect x="145" y="187" width="8" height="1" fill="#FF0000" />
<rect x="156" y="187" width="8" height="1" fill="#FF0000" />
<rect x="167" y="187" width="8" height="1" fill="#FF0000" />
<rect x="178" y="187" width="8" height="1" fill="#FF0000" />
<rect x="189" y="187" width="8" height="1" fill="#FF0000" />
<rect x="200" y="187" width="8" height="1" fill="#FF0000" />
<rect x="211" y="187" width="8" height="1" fill="#FF0000" />
<rect x="222" y="187" width="8" height="1" fill="#FF0000" />
<rect x="233" y="187" width="8" height="1" fill="#FF0000" />
<rect x="244" y="187" width="8" height="1" fill="#FF0000" />
<rect x="255" y="187" width="8" height="1" fill="#FF0000" />
<rect x="266" y="187" width="8" height="1" fill="#FF0000" />
<rect x="277" y="187" width="8" height="1" fill="#FF0000" />
<rect x="288" y="187" width="8" height="1" fill="#FF0000" />
<rect x="299" y="187" width="8" height="1" fill="#FF0000" />
<rect x="310" y="187" width="8" height="1" fill="#FF0000" />
<rect x="321" y="187" width="8" height="1" fill="#FF0000" />
<rect x="332" y="187" width="8" height="1" fill="#FF0000" />
<rect x="343" y="187" width="8" height="1" fill="#FF0000" />
<rect x="354" y="187" width="8" height="1" fill="#FF0000" />
<rect x="365" y="187" width="8" height="1" fill="#FF0000" />
<rect x="376" y="187" width="8" height="1" fill="#FF0000" />
<rect x="387" y="187" width="8" height="1" fill="#FF0000" />
<rect x="398" y="187" width="8" height="1" fill="#FF0000" />
<rect x="409" y="187" width="8" height="1" fill="#FF0000" />
<rect x="420" y="187" width="8" height="1" fill="#FF0000" />
<rect x="431" y="187" width="8" height="1" fill="#FF0000" />
<rect x="442" y="187" width="8" height="1" fill="#FF0000" />
<rect x="453" y="187" width="8" height="1" fill="#FF0000" />
<rect x="464" y="187" width="8" height="1" fill="#FF0000" />
<rect x="475" y="187" width="8" height="1" fill="#FF0000" />
<rect x="486" y="187" width="8" height="1" fill="#FF0000" />
<rect x="497" y="187" width="8" height="1" fill="#FF0000" />
<rect x="508" y="187" width="8" height="1" fill="#FF0000" />
<rect x="519" y="187" width="8" height="1" fill="#FF0000" />
<rect x="530" y="187" width="8" height="1" fill="#FF0000" />
<rect x="541" y="187" width="8" height="1" fill="#FF0000" />
<rect x="552" y="187" width="8" height="1" fill="#FF0000" />
<rect x="563" y="187" width="8" height="1" fill="#FF0000" />
<rect x="574" y="187" width="8" height="1" fill="#FF0000" />
<rect x="585" y="187" width="8" height="1" fill="#FF0000" />
<rect x="596" y="187" width="8" height="1" fill="#FF0000" />
<rect x="607" y="187" width="8" height="1" fill="#FF0000" />
<rect x="618" y="187" width="8" height="1" fill="#FF0000" />
<rect x="629" y="187" width="8" height="1" fill="#FF0000" />
<rect x="640" y="187" width="8" height="1" fill="#FF0000" />
<rect x="651" y="187" width="8" height="1" fill="#FF0000" />
<rect x="662" y="187" width="8" height="1" fill="#FF0000" />
<rect x="673" y="187" width="8" height="1" fill="#FF0000" />
<rect x="684" y="187" width="8" height="1" fill="#FF0000" />
<rect x="695" y="187" width="8" height="1" fill="#FF0000" />
<rect x="706" y="187" width="8" height="1" fill="#FF0000" />
<rect x="717" y="187" width="8" height="1" fill="#FF0000" />
<rect x="728" y="187" width="8" height="1" fill="#FF0000" />
<rect x="739" y="187" width="8" height="1" fill="#FF0000" />
<rect x="750" y="187" width="8" height="1" fill="#FF0000" />
<rect x="761" y="187" width="8" height="1" fill="#FF0000" />
<rect x="772" y="187" width="8" height="1" fill="#FF0000" />
<rect x="783" y="187" width="8" height="1" fill="#FF0000" />
<rect x="58" y="207" width="7" height="1" fill="#FF0000" />
<rect x="68" y="207" width="8" height="1" fill="#FF0000" />
<rect x="79" y="207" width="8" height="1" fill="#FF0000" />
<rect x="90" y="207" width="8" height="1" fill="#FF0000" />
<rect x="101" y="207" width="8" height="1" fill="#FF0000" />
<rect x="112" y="207" width="8" height="1" fill="#FF0000" />
<rect x="123" y="207" width="8" height="1" fill="#FF0000" />
<rect x="134" y="207" width="8" height="1" fill="#FF0000" />
<rect x="145" y="207" width="8" height="1" fill="#FF0000" />
<rect x="156" y="207" width="8" height="1" fill="#FF0000" />
<rect x="167" y="207" width="8" height="1" fill="#FF0000" />
<rect x="178" y="207" width="8" height="1" fill="#FF0000" />
<rect x="189" y="207" width="8" height="1" fill="#FF0000" />
<rect x="200" y="207" width="8" height="1" fill="#FF0000" />
<rect x="211" y="207" width="8" height="1" fill="#FF0000" />
<rect x="222" y="207" width="8" height="1" fill="#FF0000" />
<rect x="233" y="207" width="8" height="1" fill="#FF0000" />
<rect x="244" y="207" width="8" height="1" fill="#FF0000" />
<rect x="255" y="207" width="8" height="1" fill="#FF0000" />
<rect x="266" y="207" width="8" height="1" fill="#FF0000" />
<rect x="277" y="207" width="8" height="1" fill="#FF0000" />
<rect x="288" y="207" width="8" height="1" fill="#FF0000" />
<rect x="299" y="207" width="8" height="1" fill="#FF0000" />
<rect x="310" y="207" width="8" height="1" fill="#FF0000" />
<rect x="321" y="207" width="8" height="1" fill="#FF0000" />
<rect x="332" y="207" width="8" height="1" fill="#FF0000" />
<rect x="343" y="207" width="8" height="1" fill="#FF0000" />
<rect x="354" y="207" width="8" height="1" fill="#FF0000" />
<rect x="365" y="207" width="8" height="1" fill="#FF0000" />
<rect x="376" y="207" width="8" height="1" fill="#FF0000" />
<rect x="387" y="207" width="8" height="1" fill="#FF0000" />
<rect x="398" y="207" width="8" height="1" fill="#FF0000" />
<rect x="409" y="207" width="8" height="1" fill="#FF0000" />
<rect x="420" y="207" width="8" height="1" fill="#FF0000" />
<rect x="431" y="207" width="8" height="1" fill="#FF0000" />
<rect x="442" y="207" width="8" height="1" fill="#FF0000" />
<rect x="453" y="207" width="8" height="1" fill="#FF0000" />
<rect x="464" y="207" width="8" height="1" fill="#FF0000" />
<rect x="475" y="207" width="8" height="1" fill="#FF0000" />
<rect x="486" y="207" width="8" height="1" fill="#FF0000" />
<rect x="497" y="207" width="8" height="1" fill="#FF0000" />
<rect x="508" y="207" width="8" height="1" fill="#FF0000" />
<rect x="519" y="207" width="8" height="1" fill="#FF0000" />
<rect x="530" y="207" width="8" height="1" fill="#FF0000" />
<rect x="541" y="207" width="8" height="1" fill="#FF0000" />
<rect x="552" y="207" width="8" height="1" fill="#FF0000" />
<rect x="563" y="207" width="8" height="1" fill="#FF0000" />
<rect x="574" y="207" width="8" height="1" fill="#FF0000" />
<rect x="585" y="207" width="8" height="1" fill="#FF0000" />
<rect x="596" y="207" width="8" height="1" fill="#FF0000" />
<rect x="607" y="207" width="8" height="1" fill="#FF0000" />
<rect x="618" y="207" width="8" height="1" fill="#FF0000" />
<rect x="629" y="207" width="8" height="1" fill="#FF0000" />
<rect x="640" y="207" width="8" height="1" fill="#FF0000" />
<rect x="651" y="207" width="8" height="1" fill="#FF0000" />
<rect x="662" y="207" width="8" height="1" fill="#FF0000" />
<rect x="673" y="207" width="8" height="1" fill="#FF0000" />
<rect x="684" y="207" width="8" height="1" fill="#FF0000" />
<rect x="695" y="207" width="8" height="1" fill="#FF0000" />
<rect x="706" y="207" width="8" height="1" fill="#FF0000" />
<rect x="717" y="207" width="8" height="1" fill="#FF0000" />
<rect x="728" y="207" width="8" height="1" fill="#FF0000" />
<rect x="739" y="207" width="8" height="1" fill="#FF0000" />
<rect x="750" y="207" width="8" height="1" fill="#FF0000" />
<rect x="761" y="207" width="8" height="1" fill="#FF0000" />
<rect x="772" y="207" width="8" height="1" fill="#FF0000" />
<rect x="783" y="207" width="8" height="1" fill="#FF0000" />
<rect x="58" y="295" width="7" height="1" fill="#FF0000" />
<rect x="68" y="295" width="8" height="1" fill="#FF0000" />
<rect x="79" y="295" width="8" height="1" fill="#FF0000" />
<rect x="90" y="295" width="8" height="1" fill="#FF0000" />
<rect x="101" y="295" width="8" height="1" fill="#FF0000" />
<rect x="112" y="295" width="8" height="1" fill="#FF0000" />
<rect x="123" y="295" width="8" height="1" fill="#FF0000" />
<rect x="134" y="295" width="8" height="1" fill="#FF0000" />
<rect x="145" y="295" width="8" height="1" fill="#FF0000" />
<rect x="156" y="295" width="8" height="1" fill="#FF0000" />
<rect x="167" y="295" width="8" height="1" fill="#FF0000" />
<rect x="178" y="295" width="8" height="1" fill="#FF0000" />
<rect x="189" y="295" width="8" height="1" fill="#FF0000" />
<rect x="200" y="295" width="8" height="1" fill="#FF0000" />
<rect x="211" y="295" width="8" height="1" fill="#FF0000" />
<rect x="222" y="295" width="8" height="1" fill="#FF0000" />
<rect x="233" y="295" width="8" height="1" fill="#FF0000" />
<rect x="244" y="295" width="8" height="1" fill="#FF0000" />
<rect x="255" y="295" width="8" height="1" fill="#FF0000" />
<rect x="266" y="295" width="8" height="1" fill="#FF0000" />
<rect x="277" y="295" width="8" height="1" fill="#FF0000" />
<rect x="288" y="295" width="8" height="1" fill="#FF0000" />
<rect x="299" y="295" width="8" height="1" fill="#FF0000" />
<rect x="310" y="295" width="8" height="1" fill="#FF0000" />
<rect x="321" y="295" width="8" height="1" fill="#FF0000" />
<rect x="332" y="295" width="8" height="1" fill="#FF0000" />
<rect x="343" y="295" width="8" height="1" fill="#FF0000" />
<rect x="354" y="295" width="8" height="1" fill="#FF0000" />
<rect x="365" y="295" width="8" height="1" fill="#FF0000" />
<rect x="376" y="295" width="8" height="1" fill="#FF0000" />
<rect x="387" y="295" width="8" height="1" fill="#FF0000" />
<rect x="398" y="295" width="8" height="1" fill="#FF0000" />
<rect x="409" y="295" width="8" height="1" fill="#FF0000" />
<rect x="420" y="295" width="8" height="1" fill="#FF0000" />
<rect x="431" y="295" width="8" height="1" fill="#FF0000" />
<rect x="442" y="295" width="8" height="1" fill="#FF0000" />
<rect x="453" y="295" width="8" height="1" fill="#FF0000" />
<rect x="464" y="295" width="8" height="1" fill="#FF0000" />
<rect x="475" y="295" width="8" height="1" fill="#FF0000" />
<rect x="486" y="295" width="8" height="1" fill="#FF0000" />
<rect x="497" y="295" width="8" height="1" fill="#FF0000" />
<rect x="508" y="295" width="8" height="1" fill="#FF0000" />
<rect x="519" y="295" width="8" height="1" fill="#FF0000" />
<rect x="530" y="295" width="8" height="1" fill="#FF0000" />
<rect x="541" y="295" width="8" height="1" fill="#FF0000" />
<rect x="552" y="295" width="8" height="1" fill="#FF0000" />
<rect x="563" y="295" width="8" height="1" fill="#FF0000" />
<rect x="574" y="295" width="8" height="1" fill="#FF0000" />
<rect x="585" y="295" width="8" height="1" fill="#FF0000" />
<rect x="596" y="295" width="8" height="1" fill="#FF0000" />
<rect x="607" y="295" width="8" height="1" fill="#FF0000" />
<rect x="618" y="295" width="8" height="1" fill="#FF0000" />
<rect x="629" y="295" width="8" height="1" fill="#FF0000" />
<rect x="640" y="295" width="8" height="1" fill="#FF0000" />
<rect x="651" y="295" width="8" height="1" fill="#FF0000" />
<rect x="662" y="295" width="8" height="1" fill="#FF0000" />
<rect x="673" y="295" width="8" height="1" fill="#FF0000" />
<rect x="684" y="295" width="8" height="1" fill="#FF0000" />
<rect x="695" y="295" width="8" height="1" fill="#FF0000" />
<rect x="706" y="295" width="8" height="1" fill="#FF0000" />
<rect x="717" y="295" width="8" height="1" fill="#FF0000" />
<rect x="728" y="295" width="8" height="1" fill="#FF0000" />
<rect x="739" y="295" width="8" height="1" fill="#FF0000" />
<rect x="750" y="295" width="8" height="1" fill="#FF0000" />
<rect x="761" y="295" width="8" height="1" fill="#FF0000" />
<rect x="772" y="295" width="8" height="1" fill="#FF0000" />
<rect x="783" y="295" width="8" height="1" fill="#FF0000" />
<rect x="76" y="182" width="1" height="119" fill="#000" />
<rect x="76" y="182" width="1" height="8" fill="#FF0000" />
<rect x="76" y="193" width="1" height="8" fill="#FF0000" />
<rect x="76" y="204" width="1" height="8" fill="#FF0000" />
<rect x="76" y="215" width="1" height="8" fill="#FF0000" />
<rect x="76" y="226" width="1" height="8" fill="#FF0000" />
<rect x="76" y="237" width="1" height="8" fill="#FF0000" />
<rect x="76" y="248" width="1" height="8" fill="#FF0000" />
<rect x="76" y="259" width="1" height="8" fill="#FF0000" />
<rect x="76" y="270" width="1" height="8" fill="#FF0000" />
<rect x="76" y="281" width="1" height="8" fill="#FF0000" />
<rect x="76" y="292" width="1" height="8" fill="#FF0000" />
<rect x="77" y="200" width="328" height="1" fill="#008000" />
<rect x="77" y="198" width="328" height="1" fill="#FF0000" />
<rect x="405" y="200" width="27" height="1" fill="#008000" />
<rect x="405" y="199" width="27" height="1" fill="#FF0000" />
<rect x="432" y="200" width="16" height="1" fill="#008000" />
<rect x="432" y="198" width="16" height="1" fill="#FF0000" />
<rect x="448" y="199" width="15" height="1" fill="#008000" />
<rect x="448" y="197" width="15" height="1" fill="#FF0000" />
<rect x="463" y="198" width="30" height="1" fill="#008000" />
<rect x="463" y="196" width="30" height="1" fill="#FF0000" />
<rect x="493" y="199" width="14" height="1" fill="#008000" />
<rect x="493" y="197" width="14" height="1" fill="#FF0000" />
<rect x="507" y="199" width="15" height="1" fill="#008000" />
<rect x="507" y="198" width="15" height="1" fill="#FF0000" />
<rect x="522" y="200" width="14" height="1" fill="#008000" />
<rect x="522" y="198" width="14" height="1" fill="#FF0000" />
<rect x="536" y="200" width="15" height="1" fill="#008000" />
<rect x="536" y="199" width="15" height="1" fill="#FF0000" />
<rect x="551" y="200" width="242" height="1" fill="#008000" />
<rect x="551" y="198" width="242" height="1" fill="#FF0000" />
<rect x="51" y="182" width="3" height="120" fill="#000" />
<polygon points="51,302 52.5,304 54,302" fill="#000"/>
<polygon points="51,183 52.5,180 54,183" fill="#000"/>
<rect x="45" y="184" width="6" height="1" fill="#000" />
<text x="41" y="186.8" font-size="10" text-anchor="end" font-weight="normal" textLength="15" lengthAdjust="spacingAndGlyphs" >250</text>
<rect x="45" y="206" width="6" height="1" fill="#000" />
<text x="41" y="208.8" font-size="10" text-anchor="end" font-weight="normal" textLength="15" lengthAdjust="spacingAndGlyphs" >200</text>
<rect x="45" y="229" width="6" height="1" fill="#000" />
<text x="41" y="231.8" font-size="10" text-anchor="end" font-weight="normal" textLength="15" lengthAdjust="spacingAndGlyphs" >150</text>
<rect x="45" y="251" width="6" height="1" fill="#000" />
<text x="41" y="253.8" font-size="10" text-anchor="end" font-weight="normal" textLength="15" lengthAdjust="spacingAndGlyphs" >100</text>
<rect x="45" y="273" width="6" height="1" fill="#000" />
<text x="41" y="275.8" font-size="10" text-anchor="end" font-weight="normal" >50</text>
<rect x="45" y="296" width="6" height="1" fill="#000" />
<text x="41" y="298.8" font-size="10" text-anchor="end" font-weight="normal" >0</text>
<rect x="48" y="188" width="3" height="1" fill="#000" />
<rect x="48" y="193" width="3" height="1" fill="#000" />
<rect x="48" y="197" width="3" height="1" fill="#000" />
<rect x="48" y="202" width="3" height="1" fill="#000" />
<rect x="48" y="211" width="3" height="1" fill="#000" />
<rect x="48" y="215" width="3" height="1" fill="#000" />
<rect x="48" y="220" width="3" height="1" fill="#000" />
<rect x="48" y="224" width="3" height="1" fill="#000" />
<rect x="48" y="233" width="3" height="1" fill="#000" />
<rect x="48" y="238" width="3" height="1" fill="#000" />
<rect x="48" y="242" width="3" height="1" fill="#000" />
<rect x="48" y="247" width="3" height="1" fill="#000" />
<rect x="48" y="255" width="3" height="1" fill="#000" />
<rect x="48" y="260" width="3" height="1" fill="#000" />
<rect x="48" y="264" width="3" height="1" fill="#000" />
<rect x="48" y="269" width="3" height="1" fill="#000" />
<rect x="48" y="278" width="3" height="1" fill="#000" />
<rect x="48" y="282" width="3" height="1" fill="#000" />
<rect x="48" y="287" width="3" height="1" fill="#000" />
<rect x="48" y="291" width="3" height="1" fill="#000" />
<rect x="48" y="300" width="3" height="1" fill="#000" />
<text x="0" y="0" font-size="10.3" text-anchor="middle" transform="translate(14.2,242.9) rotate(-90)">Volts</text>
<rect x="263" y="311" width="20" height="1" fill="#FF0000" />
<text x="289" y="315" font-size="9.8" text-anchor="start" font-weight="normal" textLength="53" lengthAdjust="spacingAndGlyphs" >A Vrms (val)</text>
<rect x="346" y="311" width="22" height="1" fill="#008000" />
<text x="372" y="315" font-size="9.8" text-anchor="start" font-weight="normal" textLength="53" lengthAdjust="spacingAndGlyphs" >B Vrms (val)</text>
<rect x="429" y="311" width="22" height="1" fill="#0000FF" />
<text x="455" y="315" font-size="9.8" text-anchor="start" font-weight="normal" textLength="53" lengthAdjust="spacingAndGlyphs" >C Vrms (val)</text>
<rect x="512" y="311" width="22" height="1" fill="#808080" />
<text x="539" y="315" font-size="9.8" text-anchor="start" font-weight="normal" textLength="53" lengthAdjust="spacingAndGlyphs" >D Vrms (val)</text>
<rect x="70" y="28" width="1" height="297" fill="#000" />
<polygon points="73.5,30.5 79.5,30.5 76.5,36.5" fill="#FF0000" stroke="#000" stroke-width="1"/>
<polygon points="290.5,31 299.5,31 295,36.5" fill="#FFFFFF" stroke="#787878" stroke-width="1"/>
<path d="M293,32.5 L294.5,35 M297,32.5 L295.5,35" stroke="#aaa" stroke-width="0.6"/>
<polygon points="295.0,31 304.0,31 299.5,36.5" fill="#FFFFFF" stroke="#787878" stroke-width="1"/>
<path d="M297.5,32.5 L299.0,35 M301.5,32.5 L300.0,35" stroke="#aaa" stroke-width="0.6"/>
<polygon points="319.0,31 328.0,31 323.5,36.5" fill="#FFFFFF" stroke="#787878" stroke-width="1"/>
<path d="M321.5,32.5 L323.0,35 M325.5,32.5 L324.0,35" stroke="#aaa" stroke-width="0.6"/>
<rect x="58" y="323" width="737" height="3" fill="#000" />
<polygon points="58,323 56.5,324.5 58,326" fill="#000"/>
<rect x="81" y="326" width="1" height="7" fill="#000" />
<rect x="256" y="326" width="1" height="7" fill="#000" />
<rect x="432" y="326" width="1" height="7" fill="#000" />
<rect x="607" y="326" width="1" height="7" fill="#000" />
<rect x="782" y="326" width="1" height="7" fill="#000" />
<rect x="169" y="326" width="1" height="4" fill="#000" />
<rect x="344" y="326" width="1" height="4" fill="#000" />
<rect x="519" y="326" width="1" height="4" fill="#000" />
<rect x="695" y="326" width="1" height="4" fill="#000" />
<text x="81.5" y="345" font-size="10" text-anchor="middle" font-weight="normal" textLength="45" lengthAdjust="spacingAndGlyphs" >07:56:29.8</text>
<text x="256.5" y="345" font-size="10" text-anchor="middle" font-weight="normal" textLength="45" lengthAdjust="spacingAndGlyphs" >07:56:29.9</text>
<text x="432.5" y="345" font-size="10" text-anchor="middle" font-weight="normal" textLength="45" lengthAdjust="spacingAndGlyphs" >07:56:30.0</text>
<text x="607.5" y="345" font-size="10" text-anchor="middle" font-weight="normal" textLength="45" lengthAdjust="spacingAndGlyphs" >07:56:30.1</text>
<text x="782.5" y="345" font-size="10" text-anchor="middle" font-weight="normal" textLength="45" lengthAdjust="spacingAndGlyphs" >07:56:30.2</text>
<text x="81.5" y="357" font-size="10" text-anchor="middle" font-weight="normal" textLength="45" lengthAdjust="spacingAndGlyphs" >08/21/2016</text>
<text x="81" y="369" font-size="10" text-anchor="middle" font-weight="normal" textLength="31.5" lengthAdjust="spacingAndGlyphs" >Sunday</text>
<text x="412.5" y="392.5" font-size="10" text-anchor="middle" font-weight="normal" textLength="189" lengthAdjust="spacingAndGlyphs" >Event #428 at 08/21/2016 07:56:29.796</text>
<text x="412.5" y="406.5" font-size="10" text-anchor="middle" font-weight="normal" textLength="49" lengthAdjust="spacingAndGlyphs" >Pre-trigger</text>
<text x="412" y="437" font-size="18" text-anchor="middle" font-weight="bold" textLength="187" lengthAdjust="spacingAndGlyphs" >Waveform harmonics</text>
<rect x="10" y="461" width="774" height="188" fill="#B4B4B4" />
<rect x="12" y="463" width="770" height="184" fill="#FFFFFF" />
<rect x="12" y="476" width="769" height="1" fill="#000" />
<rect x="12" y="496" width="769" height="1" fill="#000" />
<rect x="12" y="516" width="769" height="1" fill="#000" />
<rect x="12" y="536" width="769" height="1" fill="#000" />
<rect x="12" y="556" width="769" height="1" fill="#000" />
<rect x="12" y="575" width="769" height="1" fill="#000" />
<rect x="12" y="595" width="769" height="1" fill="#000" />
<rect x="12" y="615" width="769" height="1" fill="#000" />
<rect x="12" y="635" width="769" height="1" fill="#000" />
<rect x="45" y="463" width="1" height="183" fill="#000" />
<rect x="188" y="463" width="1" height="183" fill="#000" />
<rect x="332" y="463" width="1" height="183" fill="#000" />
<rect x="475" y="463" width="1" height="183" fill="#000" />
<rect x="619" y="463" width="1" height="183" fill="#000" />
<rect x="763" y="463" width="1" height="183" fill="#000" />
<rect x="25" y="471" width="6" height="165" fill="#000" />
<rect x="26" y="472" width="4" height="163" fill="#FF0000" />
<rect x="29" y="475" width="7" height="161" fill="#000" />
<rect x="30" y="476" width="5" height="159" fill="#008000" />
<rect x="40" y="632" width="6" height="4" fill="#000" />
<rect x="41" y="633" width="4" height="2" fill="#FF0000" />
<rect x="44" y="635" width="7" height="4" fill="#000" />
<rect x="45" y="636" width="5" height="2" fill="#008000" />
<rect x="68" y="628" width="6" height="8" fill="#000" />
<rect x="69" y="629" width="4" height="6" fill="#FF0000" />
<rect x="72" y="628" width="7" height="8" fill="#000" />
<rect x="73" y="629" width="5" height="6" fill="#008000" />
<rect x="83" y="525" width="6" height="111" fill="#000" />
<rect x="84" y="526" width="4" height="109" fill="#FF0000" />
<rect x="87" y="527" width="7" height="109" fill="#000" />
<rect x="88" y="528" width="5" height="107" fill="#008000" />
<rect x="97" y="632" width="6" height="4" fill="#000" />
<rect x="98" y="633" width="4" height="2" fill="#FF0000" />
<rect x="101" y="632" width="7" height="4" fill="#000" />
<rect x="102" y="633" width="5" height="2" fill="#008000" />
<rect x="111" y="592" width="6" height="44" fill="#000" />
<rect x="112" y="593" width="4" height="42" fill="#FF0000" />
<rect x="115" y="593" width="7" height="43" fill="#000" />
<rect x="116" y="594" width="5" height="41" fill="#008000" />
<rect x="126" y="633" width="6" height="3" fill="#000" />
<rect x="127" y="634" width="4" height="1" fill="#FF0000" />
<rect x="130" y="633" width="7" height="3" fill="#000" />
<rect x="131" y="634" width="5" height="1" fill="#008000" />
<rect x="140" y="591" width="6" height="45" fill="#000" />
<rect x="141" y="592" width="4" height="43" fill="#FF0000" />
<rect x="144" y="591" width="7" height="45" fill="#000" />
<rect x="145" y="592" width="5" height="43" fill="#008000" />
<rect x="154" y="631" width="6" height="5" fill="#000" />
<rect x="155" y="632" width="4" height="3" fill="#FF0000" />
<rect x="158" y="632" width="7" height="4" fill="#000" />
<rect x="159" y="633" width="5" height="2" fill="#008000" />
<rect x="169" y="623" width="6" height="13" fill="#000" />
<rect x="170" y="624" width="4" height="11" fill="#FF0000" />
<rect x="173" y="623" width="7" height="13" fill="#000" />
<rect x="174" y="624" width="5" height="11" fill="#008000" />
<rect x="183" y="632" width="6" height="4" fill="#000" />
<rect x="184" y="633" width="4" height="2" fill="#FF0000" />
<rect x="187" y="632" width="7" height="4" fill="#000" />
<rect x="188" y="633" width="5" height="2" fill="#008000" />
<rect x="197" y="617" width="6" height="19" fill="#000" />
<rect x="198" y="618" width="4" height="17" fill="#FF0000" />
<rect x="201" y="617" width="7" height="19" fill="#000" />
<rect x="202" y="618" width="5" height="17" fill="#008000" />
<rect x="212" y="633" width="6" height="3" fill="#000" />
<rect x="213" y="634" width="4" height="1" fill="#FF0000" />
<rect x="216" y="633" width="7" height="3" fill="#000" />
<rect x="217" y="634" width="5" height="1" fill="#008000" />
<rect x="226" y="606" width="6" height="30" fill="#000" />
<rect x="227" y="607" width="4" height="28" fill="#FF0000" />
<rect x="230" y="606" width="7" height="30" fill="#000" />
<rect x="231" y="607" width="5" height="28" fill="#008000" />
<rect x="241" y="629" width="6" height="7" fill="#000" />
<rect x="242" y="630" width="4" height="5" fill="#FF0000" />
<rect x="245" y="630" width="7" height="6" fill="#000" />
<rect x="246" y="631" width="5" height="4" fill="#008000" />
<rect x="255" y="629" width="6" height="7" fill="#000" />
<rect x="256" y="630" width="4" height="5" fill="#FF0000" />
<rect x="259" y="629" width="7" height="7" fill="#000" />
<rect x="260" y="630" width="5" height="5" fill="#008000" />
<rect x="269" y="632" width="6" height="4" fill="#000" />
<rect x="270" y="633" width="4" height="2" fill="#FF0000" />
<rect x="273" y="633" width="7" height="3" fill="#000" />
<rect x="274" y="634" width="5" height="1" fill="#008000" />
<rect x="284" y="616" width="6" height="20" fill="#000" />
<rect x="285" y="617" width="4" height="18" fill="#FF0000" />
<rect x="288" y="616" width="7" height="20" fill="#000" />
<rect x="289" y="617" width="5" height="18" fill="#008000" />
<rect x="298" y="627" width="6" height="9" fill="#000" />
<rect x="299" y="628" width="4" height="7" fill="#FF0000" />
<rect x="302" y="629" width="7" height="7" fill="#000" />
<rect x="303" y="630" width="5" height="5" fill="#008000" />
<rect x="312" y="622" width="6" height="14" fill="#000" />
<rect x="313" y="623" width="4" height="12" fill="#FF0000" />
<rect x="316" y="623" width="7" height="13" fill="#000" />
<rect x="317" y="624" width="5" height="11" fill="#008000" />
<rect x="327" y="627" width="6" height="9" fill="#000" />
<rect x="328" y="628" width="4" height="7" fill="#FF0000" />
<rect x="331" y="628" width="7" height="8" fill="#000" />
<rect x="332" y="629" width="5" height="6" fill="#008000" />
<rect x="341" y="620" width="6" height="16" fill="#000" />
<rect x="342" y="621" width="4" height="14" fill="#FF0000" />
<rect x="345" y="621" width="7" height="15" fill="#000" />
<rect x="346" y="622" width="5" height="13" fill="#008000" />
<rect x="355" y="622" width="6" height="14" fill="#000" />
<rect x="356" y="623" width="4" height="12" fill="#FF0000" />
<rect x="359" y="625" width="7" height="11" fill="#000" />
<rect x="360" y="626" width="5" height="9" fill="#008000" />
<rect x="370" y="599" width="6" height="37" fill="#000" />
<rect x="371" y="600" width="4" height="35" fill="#FF0000" />
<rect x="374" y="599" width="7" height="37" fill="#000" />
<rect x="375" y="600" width="5" height="35" fill="#008000" />
<rect x="384" y="625" width="6" height="11" fill="#000" />
<rect x="385" y="626" width="4" height="9" fill="#FF0000" />
<rect x="388" y="627" width="7" height="9" fill="#000" />
<rect x="389" y="628" width="5" height="7" fill="#008000" />
<rect x="399" y="619" width="6" height="17" fill="#000" />
<rect x="400" y="620" width="4" height="15" fill="#FF0000" />
<rect x="403" y="620" width="7" height="16" fill="#000" />
<rect x="404" y="621" width="5" height="14" fill="#008000" />
<rect x="413" y="624" width="6" height="12" fill="#000" />
<rect x="414" y="625" width="4" height="10" fill="#FF0000" />
<rect x="417" y="626" width="7" height="10" fill="#000" />
<rect x="418" y="627" width="5" height="8" fill="#008000" />
<rect x="427" y="616" width="6" height="20" fill="#000" />
<rect x="428" y="617" width="4" height="18" fill="#FF0000" />
<rect x="431" y="616" width="7" height="20" fill="#000" />
<rect x="432" y="617" width="5" height="18" fill="#008000" />
<rect x="442" y="629" width="6" height="7" fill="#000" />
<rect x="443" y="630" width="4" height="5" fill="#FF0000" />
<rect x="446" y="630" width="7" height="6" fill="#000" />
<rect x="447" y="631" width="5" height="4" fill="#008000" />
<rect x="456" y="611" width="6" height="25" fill="#000" />
<rect x="457" y="612" width="4" height="23" fill="#FF0000" />
<rect x="460" y="611" width="7" height="25" fill="#000" />
<rect x="461" y="612" width="5" height="23" fill="#008000" />
<rect x="470" y="627" width="6" height="9" fill="#000" />
<rect x="471" y="628" width="4" height="7" fill="#FF0000" />
<rect x="474" y="629" width="7" height="7" fill="#000" />
<rect x="475" y="630" width="5" height="5" fill="#008000" />
<rect x="485" y="613" width="6" height="23" fill="#000" />
<rect x="486" y="614" width="4" height="21" fill="#FF0000" />
<rect x="489" y="613" width="7" height="23" fill="#000" />
<rect x="490" y="614" width="5" height="21" fill="#008000" />
<rect x="499" y="629" width="6" height="7" fill="#000" />
<rect x="500" y="630" width="4" height="5" fill="#FF0000" />
<rect x="503" y="630" width="7" height="6" fill="#000" />
<rect x="504" y="631" width="5" height="4" fill="#008000" />
<rect x="513" y="610" width="6" height="26" fill="#000" />
<rect x="514" y="611" width="4" height="24" fill="#FF0000" />
<rect x="517" y="610" width="7" height="26" fill="#000" />
<rect x="518" y="611" width="5" height="24" fill="#008000" />
<rect x="528" y="629" width="6" height="7" fill="#000" />
<rect x="529" y="630" width="4" height="5" fill="#FF0000" />
<rect x="532" y="630" width="7" height="6" fill="#000" />
<rect x="533" y="631" width="5" height="4" fill="#008000" />
<rect x="542" y="605" width="6" height="31" fill="#000" />
<rect x="543" y="606" width="4" height="29" fill="#FF0000" />
<rect x="546" y="605" width="7" height="31" fill="#000" />
<rect x="547" y="606" width="5" height="29" fill="#008000" />
<rect x="557" y="629" width="6" height="7" fill="#000" />
<rect x="558" y="630" width="4" height="5" fill="#FF0000" />
<rect x="561" y="630" width="7" height="6" fill="#000" />
<rect x="562" y="631" width="5" height="4" fill="#008000" />
<rect x="571" y="625" width="6" height="11" fill="#000" />
<rect x="572" y="626" width="4" height="9" fill="#FF0000" />
<rect x="575" y="627" width="7" height="9" fill="#000" />
<rect x="576" y="628" width="5" height="7" fill="#008000" />
<rect x="585" y="630" width="6" height="6" fill="#000" />
<rect x="586" y="631" width="4" height="4" fill="#FF0000" />
<rect x="589" y="630" width="7" height="6" fill="#000" />
<rect x="590" y="631" width="5" height="4" fill="#008000" />
<rect x="600" y="624" width="6" height="12" fill="#000" />
<rect x="601" y="625" width="4" height="10" fill="#FF0000" />
<rect x="604" y="624" width="7" height="12" fill="#000" />
<rect x="605" y="625" width="5" height="10" fill="#008000" />
<rect x="614" y="629" width="6" height="7" fill="#000" />
<rect x="615" y="630" width="4" height="5" fill="#FF0000" />
<rect x="618" y="630" width="7" height="6" fill="#000" />
<rect x="619" y="631" width="5" height="4" fill="#008000" />
<rect x="628" y="613" width="6" height="23" fill="#000" />
<rect x="629" y="614" width="4" height="21" fill="#FF0000" />
<rect x="632" y="614" width="7" height="22" fill="#000" />
<rect x="633" y="615" width="5" height="20" fill="#008000" />
<rect x="643" y="630" width="6" height="6" fill="#000" />
<rect x="644" y="631" width="4" height="4" fill="#FF0000" />
<rect x="647" y="630" width="7" height="6" fill="#000" />
<rect x="648" y="631" width="5" height="4" fill="#008000" />
<rect x="657" y="627" width="6" height="9" fill="#000" />
<rect x="658" y="628" width="4" height="7" fill="#FF0000" />
<rect x="661" y="626" width="7" height="10" fill="#000" />
<rect x="662" y="627" width="5" height="8" fill="#008000" />
<rect x="671" y="631" width="6" height="5" fill="#000" />
<rect x="672" y="632" width="4" height="3" fill="#FF0000" />
<rect x="675" y="631" width="7" height="5" fill="#000" />
<rect x="676" y="632" width="5" height="3" fill="#008000" />
<rect x="686" y="619" width="6" height="17" fill="#000" />
<rect x="687" y="620" width="4" height="15" fill="#FF0000" />
<rect x="690" y="618" width="7" height="18" fill="#000" />
<rect x="691" y="619" width="5" height="16" fill="#008000" />
<rect x="700" y="628" width="6" height="8" fill="#000" />
<rect x="701" y="629" width="4" height="6" fill="#FF0000" />
<rect x="704" y="628" width="7" height="8" fill="#000" />
<rect x="705" y="629" width="5" height="6" fill="#008000" />
<rect x="715" y="603" width="6" height="33" fill="#000" />
<rect x="716" y="604" width="4" height="31" fill="#FF0000" />
<rect x="719" y="603" width="7" height="33" fill="#000" />
<rect x="720" y="604" width="5" height="31" fill="#008000" />
<rect x="729" y="629" width="6" height="7" fill="#000" />
<rect x="730" y="630" width="4" height="5" fill="#FF0000" />
<rect x="733" y="628" width="7" height="8" fill="#000" />
<rect x="734" y="629" width="5" height="6" fill="#008000" />
<rect x="743" y="625" width="6" height="11" fill="#000" />
<rect x="744" y="626" width="4" height="9" fill="#FF0000" />
<rect x="747" y="626" width="7" height="10" fill="#000" />
<rect x="748" y="627" width="5" height="8" fill="#008000" />
<rect x="758" y="629" width="6" height="7" fill="#000" />
<rect x="759" y="630" width="4" height="5" fill="#FF0000" />
<rect x="762" y="629" width="7" height="7" fill="#000" />
<rect x="763" y="630" width="5" height="5" fill="#008000" />
<path d="M33,472.5 L180,472.5 Q184.5,472.5 184.5,477 L184.5,499.5 Q184.5,504 180,504 L69,504 Q64.5,504 64.5,499.5 L64.5,482.5 Z" fill="#FFFFC8" stroke="#000" stroke-width="1"/>
<text x="124.5" y="486.5" font-size="10" text-anchor="middle" font-weight="normal" textLength="104" lengthAdjust="spacingAndGlyphs" >A VHarm Val 8.2335V</text>
<text x="124.5" y="499" font-size="10" text-anchor="middle" font-weight="normal" textLength="31" lengthAdjust="spacingAndGlyphs" >-60.00</text>
<path d="M93,527.5 L111,526.5 L118.5,524.5 Q118.5,520 123,520 L234,520 Q238.5,520 238.5,524.5 L238.5,547 Q238.5,551.5 234,551.5 L123,551.5 Q118.5,551.5 118.5,547 L118.5,534.5 Z" fill="#FFFFC8" stroke="#000" stroke-width="1"/>
<text x="179" y="533.5" font-size="10" text-anchor="middle" font-weight="normal" textLength="103" lengthAdjust="spacingAndGlyphs" >B VHarm Val 5.4529V</text>
<text x="179" y="546" font-size="10" text-anchor="middle" font-weight="normal" textLength="31.5" lengthAdjust="spacingAndGlyphs" >180.00</text>
<rect x="786" y="463" width="3" height="184" fill="#000" />
<polygon points="786,647 787.5,649.5 789,647" fill="#000"/>
<polygon points="786,463 787.5,460 789,463" fill="#000"/>
<rect x="789" y="476" width="6" height="1" fill="#000" />
<text x="797.8" y="479.0" font-size="10" text-anchor="start" font-weight="normal" >8</text>
<rect x="789" y="496" width="6" height="1" fill="#000" />
<text x="797.8" y="499.0" font-size="10" text-anchor="start" font-weight="normal" >7</text>
<rect x="789" y="516" width="6" height="1" fill="#000" />
<text x="797.8" y="519.0" font-size="10" text-anchor="start" font-weight="normal" >6</text>
<rect x="789" y="536" width="6" height="1" fill="#000" />
<text x="797.8" y="539.0" font-size="10" text-anchor="start" font-weight="normal" >5</text>
<rect x="789" y="556" width="6" height="1" fill="#000" />
<text x="797.8" y="559.0" font-size="10" text-anchor="start" font-weight="normal" >4</text>
<rect x="789" y="575" width="6" height="1" fill="#000" />
<text x="797.8" y="578.0" font-size="10" text-anchor="start" font-weight="normal" >3</text>
<rect x="789" y="595" width="6" height="1" fill="#000" />
<text x="797.8" y="598.0" font-size="10" text-anchor="start" font-weight="normal" >2</text>
<rect x="789" y="615" width="6" height="1" fill="#000" />
<text x="797.8" y="618.0" font-size="10" text-anchor="start" font-weight="normal" >1</text>
<rect x="789" y="635" width="6" height="1" fill="#000" />
<text x="797.8" y="638.0" font-size="10" text-anchor="start" font-weight="normal" >0</text>
<rect x="789" y="486" width="3" height="1" fill="#000" />
<rect x="789" y="506" width="3" height="1" fill="#000" />
<rect x="789" y="526" width="3" height="1" fill="#000" />
<rect x="789" y="546" width="3" height="1" fill="#000" />
<rect x="789" y="566" width="3" height="1" fill="#000" />
<rect x="789" y="585" width="3" height="1" fill="#000" />
<rect x="789" y="605" width="3" height="1" fill="#000" />
<rect x="789" y="625" width="3" height="1" fill="#000" />
<rect x="789" y="466" width="3" height="1" fill="#000" />
<rect x="789" y="645" width="3" height="1" fill="#000" />
<text x="786" y="453.8" font-size="9.8" text-anchor="start" font-weight="normal" textLength="20.5" lengthAdjust="spacingAndGlyphs" >Volts</text>
<rect x="12" y="650" width="770" height="3" fill="#000" />
<polygon points="782,650 784,651.5 782,653" fill="#000"/>
<polygon points="12,650 10.5,651.5 12,653" fill="#000"/>
<rect x="45" y="653" width="1" height="7" fill="#000" />
<text x="44.7" y="671.5" font-size="9" text-anchor="middle" font-weight="normal" >DC</text>
<rect x="116" y="653" width="1" height="3" fill="#000" />
<text x="115.7" y="683.5" font-size="9" text-anchor="middle" font-weight="normal" >H05</text>
<rect x="188" y="653" width="1" height="7" fill="#000" />
<text x="187.7" y="671.5" font-size="9" text-anchor="middle" font-weight="normal" >H10</text>
<rect x="260" y="653" width="1" height="3" fill="#000" />
<text x="259.7" y="683.5" font-size="9" text-anchor="middle" font-weight="normal" >H15</text>
<rect x="332" y="653" width="1" height="7" fill="#000" />
<text x="331.7" y="671.5" font-size="9" text-anchor="middle" font-weight="normal" >H20</text>
<rect x="404" y="653" width="1" height="3" fill="#000" />
<text x="403.7" y="683.5" font-size="9" text-anchor="middle" font-weight="normal" >H25</text>
<rect x="475" y="653" width="1" height="7" fill="#000" />
<text x="474.7" y="671.5" font-size="9" text-anchor="middle" font-weight="normal" >H30</text>
<rect x="547" y="653" width="1" height="3" fill="#000" />
<text x="546.7" y="683.5" font-size="9" text-anchor="middle" font-weight="normal" >H35</text>
<rect x="619" y="653" width="1" height="7" fill="#000" />
<text x="618.7" y="671.5" font-size="9" text-anchor="middle" font-weight="normal" >H40</text>
<rect x="691" y="653" width="1" height="3" fill="#000" />
<text x="690.7" y="683.5" font-size="9" text-anchor="middle" font-weight="normal" >H45</text>
<rect x="763" y="653" width="1" height="7" fill="#000" />
<text x="762.7" y="671.5" font-size="9" text-anchor="middle" font-weight="normal" >H50</text>
</svg></body></html>
